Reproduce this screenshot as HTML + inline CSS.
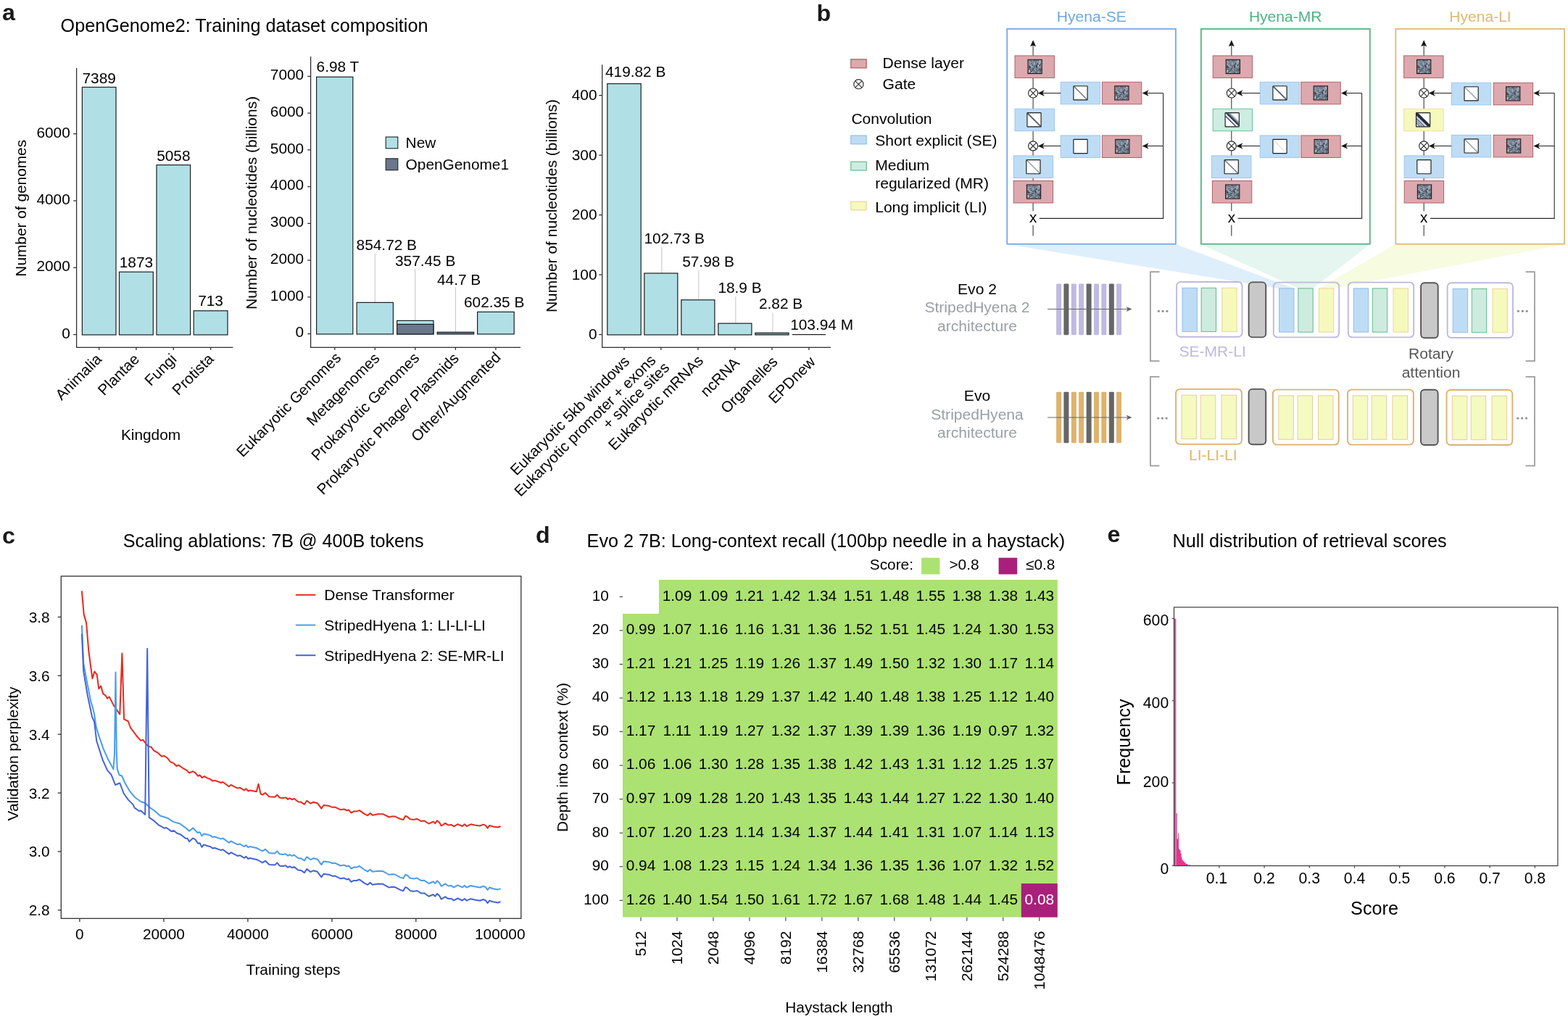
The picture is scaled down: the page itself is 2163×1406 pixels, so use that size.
<!DOCTYPE html>
<html lang="en"><head><meta charset="utf-8"><title>Evo 2 architecture and training figure</title>
<style>html,body{margin:0;padding:0;background:#fff}body{width:2163px;height:1406px;overflow:hidden}svg{display:block;font-family:"Liberation Sans",sans-serif}text{white-space:pre}</style></head><body>
<svg width="2163" height="1406" viewBox="0 0 2163 1406" role="img">
<defs><pattern id="nz" width="20" height="20" patternUnits="userSpaceOnUse"><rect width="20" height="20" fill="#728298"/><rect x="0" y="0" width="1" height="1" fill="#3b4759"/><rect x="1" y="0" width="1" height="1" fill="#848d9a"/><rect x="2" y="0" width="1" height="1" fill="#a0a8b3"/><rect x="3" y="0" width="1" height="1" fill="#5b6776"/><rect x="4" y="0" width="1" height="1" fill="#364355"/><rect x="6" y="0" width="1" height="1" fill="#88929e"/><rect x="7" y="0" width="1" height="1" fill="#a4adb8"/><rect x="8" y="0" width="1" height="1" fill="#3b4859"/><rect x="9" y="0" width="1" height="1" fill="#384456"/><rect x="10" y="0" width="1" height="1" fill="#929ca8"/><rect x="11" y="0" width="1" height="1" fill="#88929e"/><rect x="12" y="0" width="1" height="1" fill="#b8c0c9"/><rect x="13" y="0" width="1" height="1" fill="#9fa8b3"/><rect x="15" y="0" width="1" height="1" fill="#667180"/><rect x="16" y="0" width="1" height="1" fill="#e7edf4"/><rect x="17" y="0" width="1" height="1" fill="#65707f"/><rect x="18" y="0" width="1" height="1" fill="#4f5b6b"/><rect x="19" y="0" width="1" height="1" fill="#3f4b5d"/><rect x="2" y="1" width="1" height="1" fill="#636e7d"/><rect x="4" y="1" width="1" height="1" fill="#7f8996"/><rect x="5" y="1" width="1" height="1" fill="#929ba7"/><rect x="6" y="1" width="1" height="1" fill="#a4adb8"/><rect x="7" y="1" width="1" height="1" fill="#7c8693"/><rect x="8" y="1" width="1" height="1" fill="#212f42"/><rect x="9" y="1" width="1" height="1" fill="#929ca8"/><rect x="10" y="1" width="1" height="1" fill="#323f51"/><rect x="12" y="1" width="1" height="1" fill="#303d4f"/><rect x="14" y="1" width="1" height="1" fill="#4f5b6b"/><rect x="15" y="1" width="1" height="1" fill="#7c8694"/><rect x="16" y="1" width="1" height="1" fill="#eef4fa"/><rect x="18" y="1" width="1" height="1" fill="#99a2ad"/><rect x="19" y="1" width="1" height="1" fill="#364355"/><rect x="0" y="2" width="1" height="1" fill="#65707f"/><rect x="1" y="2" width="1" height="1" fill="#909aa6"/><rect x="3" y="2" width="1" height="1" fill="#838d9a"/><rect x="5" y="2" width="1" height="1" fill="#455162"/><rect x="6" y="2" width="1" height="1" fill="#8c96a2"/><rect x="7" y="2" width="1" height="1" fill="#4e596a"/><rect x="8" y="2" width="1" height="1" fill="#c7cfd7"/><rect x="9" y="2" width="1" height="1" fill="#5b6776"/><rect x="10" y="2" width="1" height="1" fill="#929ba7"/><rect x="12" y="2" width="1" height="1" fill="#9ea7b2"/><rect x="13" y="2" width="1" height="1" fill="#576372"/><rect x="14" y="2" width="1" height="1" fill="#a0a9b4"/><rect x="16" y="2" width="1" height="1" fill="#acb4be"/><rect x="17" y="2" width="1" height="1" fill="#8f98a4"/><rect x="19" y="2" width="1" height="1" fill="#4f5b6b"/><rect x="0" y="3" width="1" height="1" fill="#959eaa"/><rect x="1" y="3" width="1" height="1" fill="#88919e"/><rect x="2" y="3" width="1" height="1" fill="#bdc5ce"/><rect x="3" y="3" width="1" height="1" fill="#616c7c"/><rect x="4" y="3" width="1" height="1" fill="#8c95a2"/><rect x="5" y="3" width="1" height="1" fill="#8993a0"/><rect x="6" y="3" width="1" height="1" fill="#7f8996"/><rect x="7" y="3" width="1" height="1" fill="#7c8693"/><rect x="9" y="3" width="1" height="1" fill="#576373"/><rect x="10" y="3" width="1" height="1" fill="#445162"/><rect x="11" y="3" width="1" height="1" fill="#606c7b"/><rect x="12" y="3" width="1" height="1" fill="#8d97a3"/><rect x="13" y="3" width="1" height="1" fill="#b7bfc8"/><rect x="14" y="3" width="1" height="1" fill="#9fa8b3"/><rect x="15" y="3" width="1" height="1" fill="#a2abb6"/><rect x="16" y="3" width="1" height="1" fill="#969fab"/><rect x="17" y="3" width="1" height="1" fill="#929ba7"/><rect x="19" y="3" width="1" height="1" fill="#959faa"/><rect x="0" y="4" width="1" height="1" fill="#c3cad3"/><rect x="1" y="4" width="1" height="1" fill="#646f7e"/><rect x="2" y="4" width="1" height="1" fill="#535f6f"/><rect x="3" y="4" width="1" height="1" fill="#cbd3db"/><rect x="4" y="4" width="1" height="1" fill="#7d8895"/><rect x="5" y="4" width="1" height="1" fill="#9ea7b2"/><rect x="6" y="4" width="1" height="1" fill="#9aa3af"/><rect x="7" y="4" width="1" height="1" fill="#3f4b5d"/><rect x="8" y="4" width="1" height="1" fill="#e1e7ee"/><rect x="9" y="4" width="1" height="1" fill="#c3cbd3"/><rect x="11" y="4" width="1" height="1" fill="#959eaa"/><rect x="13" y="4" width="1" height="1" fill="#4a5667"/><rect x="15" y="4" width="1" height="1" fill="#838d9a"/><rect x="16" y="4" width="1" height="1" fill="#a5aeb8"/><rect x="17" y="4" width="1" height="1" fill="#939ca8"/><rect x="19" y="4" width="1" height="1" fill="#b0b8c2"/><rect x="0" y="5" width="1" height="1" fill="#505c6c"/><rect x="1" y="5" width="1" height="1" fill="#96a0ab"/><rect x="2" y="5" width="1" height="1" fill="#a5aeb8"/><rect x="3" y="5" width="1" height="1" fill="#65707f"/><rect x="4" y="5" width="1" height="1" fill="#212f42"/><rect x="5" y="5" width="1" height="1" fill="#495566"/><rect x="6" y="5" width="1" height="1" fill="#7d8795"/><rect x="7" y="5" width="1" height="1" fill="#8a94a0"/><rect x="8" y="5" width="1" height="1" fill="#b9c1ca"/><rect x="9" y="5" width="1" height="1" fill="#455162"/><rect x="11" y="5" width="1" height="1" fill="#9099a5"/><rect x="13" y="5" width="1" height="1" fill="#162438"/><rect x="14" y="5" width="1" height="1" fill="#97a0ac"/><rect x="15" y="5" width="1" height="1" fill="#dbe2e9"/><rect x="16" y="5" width="1" height="1" fill="#a0a9b4"/><rect x="17" y="5" width="1" height="1" fill="#495566"/><rect x="18" y="5" width="1" height="1" fill="#606b7a"/><rect x="19" y="5" width="1" height="1" fill="#7c8794"/><rect x="0" y="6" width="1" height="1" fill="#e3eaf0"/><rect x="1" y="6" width="1" height="1" fill="#8e98a4"/><rect x="3" y="6" width="1" height="1" fill="#b9c1ca"/><rect x="5" y="6" width="1" height="1" fill="#c7ced7"/><rect x="6" y="6" width="1" height="1" fill="#535f6f"/><rect x="7" y="6" width="1" height="1" fill="#5d6878"/><rect x="8" y="6" width="1" height="1" fill="#939ca8"/><rect x="9" y="6" width="1" height="1" fill="#b3bbc5"/><rect x="10" y="6" width="1" height="1" fill="#909aa6"/><rect x="11" y="6" width="1" height="1" fill="#808a97"/><rect x="12" y="6" width="1" height="1" fill="#202d41"/><rect x="13" y="6" width="1" height="1" fill="#525e6e"/><rect x="14" y="6" width="1" height="1" fill="#576272"/><rect x="15" y="6" width="1" height="1" fill="#5a6675"/><rect x="16" y="6" width="1" height="1" fill="#8d97a3"/><rect x="17" y="6" width="1" height="1" fill="#636e7d"/><rect x="18" y="6" width="1" height="1" fill="#969fab"/><rect x="0" y="7" width="1" height="1" fill="#636e7d"/><rect x="2" y="7" width="1" height="1" fill="#86909c"/><rect x="3" y="7" width="1" height="1" fill="#99a2ae"/><rect x="4" y="7" width="1" height="1" fill="#5d6877"/><rect x="5" y="7" width="1" height="1" fill="#687381"/><rect x="6" y="7" width="1" height="1" fill="#354153"/><rect x="7" y="7" width="1" height="1" fill="#bbc3cc"/><rect x="8" y="7" width="1" height="1" fill="#b4bcc6"/><rect x="10" y="7" width="1" height="1" fill="#5d6877"/><rect x="11" y="7" width="1" height="1" fill="#3a4759"/><rect x="13" y="7" width="1" height="1" fill="#7c8693"/><rect x="14" y="7" width="1" height="1" fill="#d5dce4"/><rect x="15" y="7" width="1" height="1" fill="#7e8895"/><rect x="16" y="7" width="1" height="1" fill="#4f5b6b"/><rect x="17" y="7" width="1" height="1" fill="#162438"/><rect x="18" y="7" width="1" height="1" fill="#b2bbc4"/><rect x="0" y="8" width="1" height="1" fill="#293749"/><rect x="2" y="8" width="1" height="1" fill="#293749"/><rect x="3" y="8" width="1" height="1" fill="#eef4fa"/><rect x="4" y="8" width="1" height="1" fill="#a5aeb9"/><rect x="5" y="8" width="1" height="1" fill="#8c96a2"/><rect x="7" y="8" width="1" height="1" fill="#162438"/><rect x="9" y="8" width="1" height="1" fill="#2c394c"/><rect x="10" y="8" width="1" height="1" fill="#8d97a3"/><rect x="11" y="8" width="1" height="1" fill="#162438"/><rect x="12" y="8" width="1" height="1" fill="#495566"/><rect x="13" y="8" width="1" height="1" fill="#aab2bd"/><rect x="14" y="8" width="1" height="1" fill="#bdc5ce"/><rect x="15" y="8" width="1" height="1" fill="#3d495b"/><rect x="16" y="8" width="1" height="1" fill="#2d3a4c"/><rect x="17" y="8" width="1" height="1" fill="#9aa3af"/><rect x="18" y="8" width="1" height="1" fill="#99a2ae"/><rect x="19" y="8" width="1" height="1" fill="#465263"/><rect x="0" y="9" width="1" height="1" fill="#535f6f"/><rect x="1" y="9" width="1" height="1" fill="#535f6f"/><rect x="2" y="9" width="1" height="1" fill="#3c495a"/><rect x="3" y="9" width="1" height="1" fill="#545f6f"/><rect x="4" y="9" width="1" height="1" fill="#abb4be"/><rect x="5" y="9" width="1" height="1" fill="#929ba7"/><rect x="6" y="9" width="1" height="1" fill="#d0d7df"/><rect x="9" y="9" width="1" height="1" fill="#465263"/><rect x="11" y="9" width="1" height="1" fill="#374455"/><rect x="12" y="9" width="1" height="1" fill="#222f43"/><rect x="13" y="9" width="1" height="1" fill="#929ba7"/><rect x="14" y="9" width="1" height="1" fill="#b4bcc6"/><rect x="15" y="9" width="1" height="1" fill="#98a1ad"/><rect x="16" y="9" width="1" height="1" fill="#afb7c1"/><rect x="17" y="9" width="1" height="1" fill="#7e8895"/><rect x="18" y="9" width="1" height="1" fill="#525e6e"/><rect x="0" y="10" width="1" height="1" fill="#616d7c"/><rect x="1" y="10" width="1" height="1" fill="#404c5e"/><rect x="2" y="10" width="1" height="1" fill="#263346"/><rect x="3" y="10" width="1" height="1" fill="#2f3c4f"/><rect x="6" y="10" width="1" height="1" fill="#5d6878"/><rect x="7" y="10" width="1" height="1" fill="#b3bbc5"/><rect x="9" y="10" width="1" height="1" fill="#8d96a3"/><rect x="10" y="10" width="1" height="1" fill="#aab2bd"/><rect x="11" y="10" width="1" height="1" fill="#4d596a"/><rect x="12" y="10" width="1" height="1" fill="#19273b"/><rect x="13" y="10" width="1" height="1" fill="#959eaa"/><rect x="14" y="10" width="1" height="1" fill="#535f6f"/><rect x="15" y="10" width="1" height="1" fill="#aeb6c0"/><rect x="16" y="10" width="1" height="1" fill="#828c99"/><rect x="17" y="10" width="1" height="1" fill="#a0a9b4"/><rect x="18" y="10" width="1" height="1" fill="#959eaa"/><rect x="19" y="10" width="1" height="1" fill="#162438"/><rect x="0" y="11" width="1" height="1" fill="#939ca8"/><rect x="1" y="11" width="1" height="1" fill="#54606f"/><rect x="2" y="11" width="1" height="1" fill="#505c6c"/><rect x="3" y="11" width="1" height="1" fill="#5f6a79"/><rect x="4" y="11" width="1" height="1" fill="#959eaa"/><rect x="5" y="11" width="1" height="1" fill="#9aa4af"/><rect x="6" y="11" width="1" height="1" fill="#a0a9b4"/><rect x="7" y="11" width="1" height="1" fill="#273447"/><rect x="8" y="11" width="1" height="1" fill="#586373"/><rect x="9" y="11" width="1" height="1" fill="#162438"/><rect x="11" y="11" width="1" height="1" fill="#8e97a3"/><rect x="12" y="11" width="1" height="1" fill="#505c6c"/><rect x="13" y="11" width="1" height="1" fill="#7d8895"/><rect x="14" y="11" width="1" height="1" fill="#7d8794"/><rect x="15" y="11" width="1" height="1" fill="#a0a9b4"/><rect x="16" y="11" width="1" height="1" fill="#4d5969"/><rect x="17" y="11" width="1" height="1" fill="#4d5969"/><rect x="18" y="11" width="1" height="1" fill="#505c6c"/><rect x="19" y="11" width="1" height="1" fill="#c2c9d2"/><rect x="0" y="12" width="1" height="1" fill="#a4adb7"/><rect x="2" y="12" width="1" height="1" fill="#7d8794"/><rect x="4" y="12" width="1" height="1" fill="#7c8693"/><rect x="5" y="12" width="1" height="1" fill="#697482"/><rect x="6" y="12" width="1" height="1" fill="#636e7d"/><rect x="7" y="12" width="1" height="1" fill="#394658"/><rect x="8" y="12" width="1" height="1" fill="#556171"/><rect x="9" y="12" width="1" height="1" fill="#bdc5ce"/><rect x="10" y="12" width="1" height="1" fill="#8b94a1"/><rect x="12" y="12" width="1" height="1" fill="#697482"/><rect x="14" y="12" width="1" height="1" fill="#828c99"/><rect x="15" y="12" width="1" height="1" fill="#556171"/><rect x="16" y="12" width="1" height="1" fill="#7b8693"/><rect x="17" y="12" width="1" height="1" fill="#7d8795"/><rect x="18" y="12" width="1" height="1" fill="#505c6c"/><rect x="19" y="12" width="1" height="1" fill="#4f5a6b"/><rect x="0" y="13" width="1" height="1" fill="#455162"/><rect x="1" y="13" width="1" height="1" fill="#424e60"/><rect x="2" y="13" width="1" height="1" fill="#9ba4af"/><rect x="3" y="13" width="1" height="1" fill="#162438"/><rect x="4" y="13" width="1" height="1" fill="#667180"/><rect x="5" y="13" width="1" height="1" fill="#576272"/><rect x="6" y="13" width="1" height="1" fill="#566272"/><rect x="8" y="13" width="1" height="1" fill="#a6aeb9"/><rect x="11" y="13" width="1" height="1" fill="#576272"/><rect x="13" y="13" width="1" height="1" fill="#9ca5b0"/><rect x="14" y="13" width="1" height="1" fill="#616c7b"/><rect x="15" y="13" width="1" height="1" fill="#3e4b5c"/><rect x="16" y="13" width="1" height="1" fill="#394657"/><rect x="17" y="13" width="1" height="1" fill="#404d5e"/><rect x="18" y="13" width="1" height="1" fill="#334052"/><rect x="19" y="13" width="1" height="1" fill="#a4adb8"/><rect x="0" y="14" width="1" height="1" fill="#828c99"/><rect x="1" y="14" width="1" height="1" fill="#687381"/><rect x="2" y="14" width="1" height="1" fill="#b5bdc6"/><rect x="3" y="14" width="1" height="1" fill="#556070"/><rect x="4" y="14" width="1" height="1" fill="#959eaa"/><rect x="5" y="14" width="1" height="1" fill="#97a0ac"/><rect x="6" y="14" width="1" height="1" fill="#2c394c"/><rect x="7" y="14" width="1" height="1" fill="#2c394b"/><rect x="8" y="14" width="1" height="1" fill="#485465"/><rect x="9" y="14" width="1" height="1" fill="#9ca5b0"/><rect x="10" y="14" width="1" height="1" fill="#adb6c0"/><rect x="11" y="14" width="1" height="1" fill="#3b4759"/><rect x="12" y="14" width="1" height="1" fill="#a2abb6"/><rect x="13" y="14" width="1" height="1" fill="#616c7b"/><rect x="14" y="14" width="1" height="1" fill="#616c7b"/><rect x="15" y="14" width="1" height="1" fill="#596574"/><rect x="16" y="14" width="1" height="1" fill="#646f7e"/><rect x="17" y="14" width="1" height="1" fill="#202e41"/><rect x="18" y="14" width="1" height="1" fill="#455162"/><rect x="19" y="14" width="1" height="1" fill="#3a4759"/><rect x="0" y="15" width="1" height="1" fill="#89929f"/><rect x="1" y="15" width="1" height="1" fill="#d1d8e0"/><rect x="2" y="15" width="1" height="1" fill="#eef4fa"/><rect x="3" y="15" width="1" height="1" fill="#636e7d"/><rect x="4" y="15" width="1" height="1" fill="#243245"/><rect x="5" y="15" width="1" height="1" fill="#606b7a"/><rect x="6" y="15" width="1" height="1" fill="#485465"/><rect x="7" y="15" width="1" height="1" fill="#ccd4dc"/><rect x="8" y="15" width="1" height="1" fill="#8c96a2"/><rect x="9" y="15" width="1" height="1" fill="#515d6d"/><rect x="10" y="15" width="1" height="1" fill="#9da6b1"/><rect x="11" y="15" width="1" height="1" fill="#8b94a1"/><rect x="12" y="15" width="1" height="1" fill="#293649"/><rect x="13" y="15" width="1" height="1" fill="#5a6675"/><rect x="14" y="15" width="1" height="1" fill="#687281"/><rect x="17" y="15" width="1" height="1" fill="#636e7d"/><rect x="19" y="15" width="1" height="1" fill="#586373"/><rect x="0" y="16" width="1" height="1" fill="#4a5666"/><rect x="1" y="16" width="1" height="1" fill="#b7bfc9"/><rect x="2" y="16" width="1" height="1" fill="#838d9a"/><rect x="3" y="16" width="1" height="1" fill="#86909d"/><rect x="4" y="16" width="1" height="1" fill="#2a374a"/><rect x="6" y="16" width="1" height="1" fill="#98a1ac"/><rect x="7" y="16" width="1" height="1" fill="#384556"/><rect x="8" y="16" width="1" height="1" fill="#a4adb8"/><rect x="9" y="16" width="1" height="1" fill="#616c7b"/><rect x="10" y="16" width="1" height="1" fill="#858f9b"/><rect x="12" y="16" width="1" height="1" fill="#7c8694"/><rect x="13" y="16" width="1" height="1" fill="#a9b2bc"/><rect x="14" y="16" width="1" height="1" fill="#606b7a"/><rect x="15" y="16" width="1" height="1" fill="#b9c1cb"/><rect x="16" y="16" width="1" height="1" fill="#4f5b6b"/><rect x="17" y="16" width="1" height="1" fill="#485465"/><rect x="18" y="16" width="1" height="1" fill="#939ca8"/><rect x="19" y="16" width="1" height="1" fill="#424e5f"/><rect x="0" y="17" width="1" height="1" fill="#626d7c"/><rect x="1" y="17" width="1" height="1" fill="#9ca5b0"/><rect x="2" y="17" width="1" height="1" fill="#a9b2bc"/><rect x="3" y="17" width="1" height="1" fill="#222f43"/><rect x="4" y="17" width="1" height="1" fill="#8993a0"/><rect x="5" y="17" width="1" height="1" fill="#c8cfd8"/><rect x="6" y="17" width="1" height="1" fill="#a9b1bc"/><rect x="7" y="17" width="1" height="1" fill="#677281"/><rect x="8" y="17" width="1" height="1" fill="#576372"/><rect x="9" y="17" width="1" height="1" fill="#65707f"/><rect x="10" y="17" width="1" height="1" fill="#3e4b5c"/><rect x="11" y="17" width="1" height="1" fill="#667180"/><rect x="14" y="17" width="1" height="1" fill="#a8b1bb"/><rect x="15" y="17" width="1" height="1" fill="#687382"/><rect x="16" y="17" width="1" height="1" fill="#303d50"/><rect x="17" y="17" width="1" height="1" fill="#a2abb6"/><rect x="18" y="17" width="1" height="1" fill="#424e5f"/><rect x="19" y="17" width="1" height="1" fill="#5e6979"/><rect x="1" y="18" width="1" height="1" fill="#636e7d"/><rect x="2" y="18" width="1" height="1" fill="#455162"/><rect x="3" y="18" width="1" height="1" fill="#677281"/><rect x="4" y="18" width="1" height="1" fill="#d5dce4"/><rect x="5" y="18" width="1" height="1" fill="#576272"/><rect x="7" y="18" width="1" height="1" fill="#a5aeb9"/><rect x="8" y="18" width="1" height="1" fill="#949da9"/><rect x="9" y="18" width="1" height="1" fill="#959eaa"/><rect x="10" y="18" width="1" height="1" fill="#99a3ae"/><rect x="11" y="18" width="1" height="1" fill="#19273b"/><rect x="12" y="18" width="1" height="1" fill="#4b5768"/><rect x="14" y="18" width="1" height="1" fill="#89939f"/><rect x="15" y="18" width="1" height="1" fill="#adb5c0"/><rect x="16" y="18" width="1" height="1" fill="#88919e"/><rect x="17" y="18" width="1" height="1" fill="#687381"/><rect x="19" y="18" width="1" height="1" fill="#697482"/><rect x="0" y="19" width="1" height="1" fill="#7e8895"/><rect x="1" y="19" width="1" height="1" fill="#919aa6"/><rect x="2" y="19" width="1" height="1" fill="#636e7d"/><rect x="3" y="19" width="1" height="1" fill="#4d596a"/><rect x="4" y="19" width="1" height="1" fill="#4c5868"/><rect x="5" y="19" width="1" height="1" fill="#a4adb8"/><rect x="6" y="19" width="1" height="1" fill="#acb5bf"/><rect x="7" y="19" width="1" height="1" fill="#9fa8b3"/><rect x="8" y="19" width="1" height="1" fill="#99a2ae"/><rect x="9" y="19" width="1" height="1" fill="#98a1ad"/><rect x="11" y="19" width="1" height="1" fill="#909aa6"/><rect x="12" y="19" width="1" height="1" fill="#434f60"/><rect x="13" y="19" width="1" height="1" fill="#697483"/><rect x="14" y="19" width="1" height="1" fill="#515d6d"/><rect x="15" y="19" width="1" height="1" fill="#939da9"/><rect x="16" y="19" width="1" height="1" fill="#586473"/><rect x="18" y="19" width="1" height="1" fill="#858e9b"/><rect x="19" y="19" width="1" height="1" fill="#b0b8c2"/></pattern><linearGradient id="gmr" x1="9.3" y1="9.3" x2="13.6" y2="5.0" gradientUnits="userSpaceOnUse"><stop offset="0" stop-color="#1b2636"/><stop offset="0.3" stop-color="#3d4d63"/><stop offset="0.6" stop-color="#8fa1b6"/><stop offset="0.85" stop-color="#d5dee8"/><stop offset="1" stop-color="#ffffff"/></linearGradient></defs>
<rect width="2163" height="1406" fill="#fff"/>
<g id="panel-a">
<text x="3.00" y="27.80" font-size="32.2" fill="#1a1a1a" font-weight="bold">a</text>
<text x="83.60" y="43.60" font-size="25.2">OpenGenome2: Training dataset composition</text>
<line x1="105.60" y1="93.80" x2="105.60" y2="479.30" stroke="#2b2b2b" stroke-width="1.25"/>
<line x1="105.00" y1="479.30" x2="321.40" y2="479.30" stroke="#2b2b2b" stroke-width="1.25"/>
<line x1="101.20" y1="461.60" x2="105.60" y2="461.60" stroke="#2b2b2b" stroke-width="1.25"/>
<text x="96.80" y="466.60" font-size="20.83" text-anchor="end">0</text>
<line x1="101.20" y1="369.30" x2="105.60" y2="369.30" stroke="#2b2b2b" stroke-width="1.25"/>
<text x="96.80" y="374.30" font-size="20.83" text-anchor="end">2000</text>
<line x1="101.20" y1="277.00" x2="105.60" y2="277.00" stroke="#2b2b2b" stroke-width="1.25"/>
<text x="96.80" y="282.00" font-size="20.83" text-anchor="end">4000</text>
<line x1="101.20" y1="184.70" x2="105.60" y2="184.70" stroke="#2b2b2b" stroke-width="1.25"/>
<text x="96.80" y="189.70" font-size="20.83" text-anchor="end">6000</text>
<rect x="113.40" y="120.30" width="46.60" height="341.70" fill="#B1DFE6" stroke="#1c1f22" stroke-width="1.2"/>
<text x="136.70" y="115.00" font-size="20.83" text-anchor="middle">7389</text>
<line x1="136.70" y1="479.30" x2="136.70" y2="482.90" stroke="#2b2b2b" stroke-width="1.25"/>
<text x="141.50" y="496.80" font-size="20.83" text-anchor="end" transform="rotate(-45 141.50 496.80)">Animalia</text>
<rect x="164.50" y="375.20" width="46.80" height="86.80" fill="#B1DFE6" stroke="#1c1f22" stroke-width="1.2"/>
<text x="187.90" y="368.80" font-size="20.83" text-anchor="middle">1873</text>
<line x1="187.90" y1="479.30" x2="187.90" y2="482.90" stroke="#2b2b2b" stroke-width="1.25"/>
<text x="193.50" y="496.80" font-size="20.83" text-anchor="end" transform="rotate(-45 193.50 496.80)">Plantae</text>
<rect x="216.00" y="227.60" width="46.60" height="234.40" fill="#B1DFE6" stroke="#1c1f22" stroke-width="1.2"/>
<text x="239.30" y="222.00" font-size="20.83" text-anchor="middle">5058</text>
<line x1="239.30" y1="479.30" x2="239.30" y2="482.90" stroke="#2b2b2b" stroke-width="1.25"/>
<text x="244.80" y="496.70" font-size="20.83" text-anchor="end" transform="rotate(-45 244.80 496.70)">Fungi</text>
<rect x="267.20" y="428.80" width="46.80" height="33.20" fill="#B1DFE6" stroke="#1c1f22" stroke-width="1.2"/>
<text x="290.60" y="421.90" font-size="20.83" text-anchor="middle">713</text>
<line x1="290.60" y1="479.30" x2="290.60" y2="482.90" stroke="#2b2b2b" stroke-width="1.25"/>
<text x="296.00" y="496.50" font-size="20.83" text-anchor="end" transform="rotate(-45 296.00 496.50)">Protista</text>
<text x="36.30" y="287.30" font-size="20.83" text-anchor="middle" transform="rotate(-90 36.30 287.30)">Number of genomes</text>
<text x="208.00" y="606.80" font-size="20.83" text-anchor="middle">Kingdom</text>
<line x1="428.60" y1="78.00" x2="428.60" y2="479.30" stroke="#2b2b2b" stroke-width="1.25"/>
<line x1="428.00" y1="479.30" x2="718.00" y2="479.30" stroke="#2b2b2b" stroke-width="1.25"/>
<line x1="424.20" y1="460.60" x2="428.60" y2="460.60" stroke="#2b2b2b" stroke-width="1.25"/>
<text x="419.20" y="465.30" font-size="20.83" text-anchor="end">0</text>
<line x1="424.20" y1="409.85" x2="428.60" y2="409.85" stroke="#2b2b2b" stroke-width="1.25"/>
<text x="419.20" y="414.55" font-size="20.83" text-anchor="end">1000</text>
<line x1="424.20" y1="359.10" x2="428.60" y2="359.10" stroke="#2b2b2b" stroke-width="1.25"/>
<text x="419.20" y="363.80" font-size="20.83" text-anchor="end">2000</text>
<line x1="424.20" y1="308.35" x2="428.60" y2="308.35" stroke="#2b2b2b" stroke-width="1.25"/>
<text x="419.20" y="313.05" font-size="20.83" text-anchor="end">3000</text>
<line x1="424.20" y1="257.60" x2="428.60" y2="257.60" stroke="#2b2b2b" stroke-width="1.25"/>
<text x="419.20" y="262.30" font-size="20.83" text-anchor="end">4000</text>
<line x1="424.20" y1="206.85" x2="428.60" y2="206.85" stroke="#2b2b2b" stroke-width="1.25"/>
<text x="419.20" y="211.55" font-size="20.83" text-anchor="end">5000</text>
<line x1="424.20" y1="156.10" x2="428.60" y2="156.10" stroke="#2b2b2b" stroke-width="1.25"/>
<text x="419.20" y="160.80" font-size="20.83" text-anchor="end">6000</text>
<line x1="424.20" y1="105.35" x2="428.60" y2="105.35" stroke="#2b2b2b" stroke-width="1.25"/>
<text x="419.20" y="110.05" font-size="20.83" text-anchor="end">7000</text>
<rect x="436.60" y="106.20" width="50.20" height="354.80" fill="#B1DFE6" stroke="#1c1f22" stroke-width="1.2"/>
<line x1="461.70" y1="479.30" x2="461.70" y2="482.90" stroke="#2b2b2b" stroke-width="1.25"/>
<text x="471.50" y="495.00" font-size="20.83" text-anchor="end" transform="rotate(-45 471.50 495.00)">Eukaryotic Genomes</text>
<text x="436.60" y="99.20" font-size="20.83">6.98 T</text>
<line x1="517.25" y1="349.60" x2="517.25" y2="417.40" stroke="#c4c4c4" stroke-width="1.0"/>
<rect x="492.10" y="417.40" width="50.30" height="43.60" fill="#B1DFE6" stroke="#1c1f22" stroke-width="1.2"/>
<line x1="517.25" y1="479.30" x2="517.25" y2="482.90" stroke="#2b2b2b" stroke-width="1.25"/>
<text x="524.85" y="495.50" font-size="20.83" text-anchor="end" transform="rotate(-45 524.85 495.50)">Metagenomes</text>
<text x="491.60" y="345.00" font-size="20.83">854.72 B</text>
<line x1="572.80" y1="371.00" x2="572.80" y2="442.40" stroke="#c4c4c4" stroke-width="1.0"/>
<rect x="547.60" y="442.40" width="50.40" height="18.60" fill="#B1DFE6" stroke="#1c1f22" stroke-width="1.2"/>
<rect x="547.60" y="447.40" width="50.40" height="13.60" fill="#6B788C" stroke="#1c1f22" stroke-width="1.2"/>
<line x1="572.80" y1="479.30" x2="572.80" y2="482.90" stroke="#2b2b2b" stroke-width="1.25"/>
<text x="579.50" y="495.10" font-size="20.83" text-anchor="end" transform="rotate(-45 579.50 495.10)">Prokaryotic Genomes</text>
<text x="545.00" y="366.60" font-size="20.83">357.45 B</text>
<line x1="628.40" y1="396.50" x2="628.40" y2="458.30" stroke="#c4c4c4" stroke-width="1.0"/>
<rect x="603.10" y="458.30" width="50.60" height="2.70" fill="#6B788C" stroke="#1c1f22" stroke-width="1.2"/>
<line x1="628.40" y1="479.30" x2="628.40" y2="482.90" stroke="#2b2b2b" stroke-width="1.25"/>
<text x="634.10" y="495.50" font-size="20.83" text-anchor="end" transform="rotate(-45 634.10 495.50)">Prokaryotic Phage/ Plasmids</text>
<text x="603.00" y="392.50" font-size="20.83">44.7 B</text>
<rect x="658.60" y="430.40" width="50.60" height="30.60" fill="#B1DFE6" stroke="#1c1f22" stroke-width="1.2"/>
<line x1="683.90" y1="479.30" x2="683.90" y2="482.90" stroke="#2b2b2b" stroke-width="1.25"/>
<text x="692.00" y="494.20" font-size="20.83" text-anchor="end" transform="rotate(-45 692.00 494.20)">Other/Augmented</text>
<text x="640.00" y="423.90" font-size="20.83">602.35 B</text>
<text x="353.60" y="279.90" font-size="21.0" text-anchor="middle" transform="rotate(-90 353.60 279.90)">Number of nucleotides (billions)</text>
<rect x="532.20" y="189.00" width="16.60" height="15.80" fill="#B1DFE6" stroke="#1c1f22" stroke-width="1.1"/>
<text x="559.60" y="203.70" font-size="20.83">New</text>
<rect x="532.20" y="218.80" width="16.60" height="15.90" fill="#6B788C" stroke="#1c1f22" stroke-width="1.1"/>
<text x="559.60" y="233.80" font-size="20.83">OpenGenome1</text>
<line x1="830.70" y1="89.30" x2="830.70" y2="479.30" stroke="#2b2b2b" stroke-width="1.25"/>
<line x1="830.10" y1="479.30" x2="1146.00" y2="479.30" stroke="#2b2b2b" stroke-width="1.25"/>
<line x1="826.30" y1="461.60" x2="830.70" y2="461.60" stroke="#2b2b2b" stroke-width="1.25"/>
<text x="823.50" y="468.10" font-size="20.83" text-anchor="end">0</text>
<line x1="826.30" y1="379.10" x2="830.70" y2="379.10" stroke="#2b2b2b" stroke-width="1.25"/>
<text x="823.50" y="385.60" font-size="20.83" text-anchor="end">100</text>
<line x1="826.30" y1="296.60" x2="830.70" y2="296.60" stroke="#2b2b2b" stroke-width="1.25"/>
<text x="823.50" y="303.10" font-size="20.83" text-anchor="end">200</text>
<line x1="826.30" y1="214.10" x2="830.70" y2="214.10" stroke="#2b2b2b" stroke-width="1.25"/>
<text x="823.50" y="220.60" font-size="20.83" text-anchor="end">300</text>
<line x1="826.30" y1="131.60" x2="830.70" y2="131.60" stroke="#2b2b2b" stroke-width="1.25"/>
<text x="823.50" y="138.10" font-size="20.83" text-anchor="end">400</text>
<rect x="837.80" y="115.50" width="46.40" height="346.50" fill="#B1DFE6" stroke="#1c1f22" stroke-width="1.2"/>
<line x1="861.00" y1="479.30" x2="861.00" y2="482.90" stroke="#2b2b2b" stroke-width="1.25"/>
<text x="869.60" y="499.80" font-size="20.83" text-anchor="end" transform="rotate(-45 869.60 499.80)">Eukaryotic 5kb windows</text>
<text x="835.00" y="105.90" font-size="20.83">419.82 B</text>
<line x1="912.80" y1="340.60" x2="912.80" y2="377.00" stroke="#c4c4c4" stroke-width="1.0"/>
<rect x="888.80" y="377.00" width="46.00" height="85.00" fill="#B1DFE6" stroke="#1c1f22" stroke-width="1.2"/>
<line x1="911.80" y1="479.30" x2="911.80" y2="482.90" stroke="#2b2b2b" stroke-width="1.25"/>
<text x="905.80" y="498.40" font-size="20.83" text-anchor="end" transform="rotate(-45 905.80 498.40)">Eukaryotic promoter + exons</text>
<text x="924.60" y="508.40" font-size="20.83" text-anchor="end" transform="rotate(-45 924.60 508.40)">+ splice sites</text>
<text x="888.40" y="335.50" font-size="20.83">102.73 B</text>
<line x1="963.85" y1="372.80" x2="963.85" y2="413.80" stroke="#c4c4c4" stroke-width="1.0"/>
<rect x="939.80" y="413.80" width="46.10" height="48.20" fill="#B1DFE6" stroke="#1c1f22" stroke-width="1.2"/>
<line x1="962.85" y1="479.30" x2="962.85" y2="482.90" stroke="#2b2b2b" stroke-width="1.25"/>
<text x="971.45" y="498.80" font-size="20.83" text-anchor="end" transform="rotate(-45 971.45 498.80)">Eukaryotic mRNAs</text>
<text x="941.20" y="368.10" font-size="20.83">57.98 B</text>
<line x1="1014.85" y1="409.20" x2="1014.85" y2="446.20" stroke="#c4c4c4" stroke-width="1.0"/>
<rect x="990.80" y="446.20" width="46.10" height="15.80" fill="#B1DFE6" stroke="#1c1f22" stroke-width="1.2"/>
<line x1="1013.85" y1="479.30" x2="1013.85" y2="482.90" stroke="#2b2b2b" stroke-width="1.25"/>
<text x="1021.45" y="501.80" font-size="20.83" text-anchor="end" transform="rotate(-45 1021.45 501.80)">ncRNA</text>
<text x="990.40" y="404.30" font-size="20.83">18.9 B</text>
<line x1="1065.90" y1="431.60" x2="1065.90" y2="459.30" stroke="#c4c4c4" stroke-width="1.0"/>
<rect x="1041.80" y="459.30" width="46.20" height="2.70" fill="#7d9a9c" stroke="#1c1f22" stroke-width="1.2"/>
<line x1="1064.90" y1="479.30" x2="1064.90" y2="482.90" stroke="#2b2b2b" stroke-width="1.25"/>
<text x="1073.90" y="500.30" font-size="20.83" text-anchor="end" transform="rotate(-45 1073.90 500.30)">Organelles</text>
<text x="1047.00" y="426.00" font-size="20.83">2.82 B</text>
<line x1="1092.80" y1="461.70" x2="1139.00" y2="461.70" stroke="#1c1f22" stroke-width="1.3"/>
<line x1="1115.90" y1="479.30" x2="1115.90" y2="482.90" stroke="#2b2b2b" stroke-width="1.25"/>
<text x="1126.00" y="500.60" font-size="20.83" text-anchor="end" transform="rotate(-45 1126.00 500.60)">EPDnew</text>
<text x="1090.20" y="454.70" font-size="20.83">103.94 M</text>
<text x="768.00" y="284.00" font-size="21.0" text-anchor="middle" transform="rotate(-90 768.00 284.00)">Number of nucleotides (billions)</text>
</g>
<g id="panel-b">
<text x="1126.50" y="28.50" font-size="32.2" fill="#1a1a1a" font-weight="bold">b</text>
<rect x="1173.80" y="81.80" width="21.40" height="12.00" fill="#DCA9AE" stroke="#A9525B" stroke-width="1.1"/>
<text x="1217.60" y="93.90" font-size="21.05">Dense layer</text>
<circle cx="1184.4" cy="116.2" r="6.6" fill="#fff" stroke="#2b2b2b" stroke-width="1.15"/>
<line x1="1179.73" y1="111.53" x2="1189.07" y2="120.87" stroke="#2b2b2b" stroke-width="1.1"/>
<line x1="1179.73" y1="120.87" x2="1189.07" y2="111.53" stroke="#2b2b2b" stroke-width="1.1"/>
<text x="1217.60" y="122.90" font-size="21.05">Gate</text>
<text x="1174.40" y="170.50" font-size="21.05">Convolution</text>
<rect x="1173.80" y="187.00" width="21.40" height="11.80" fill="#BEDDF5" stroke="#8BBAEA" stroke-width="1.1"/>
<text x="1207.20" y="201.20" font-size="21.05">Short explicit (SE)</text>
<rect x="1173.80" y="223.20" width="21.40" height="11.80" fill="#CDEDE2" stroke="#58B888" stroke-width="1.1"/>
<text x="1207.20" y="234.60" font-size="21.05">Medium</text>
<text x="1207.20" y="260.00" font-size="21.05">regularized (MR)</text>
<rect x="1173.80" y="278.20" width="21.40" height="11.60" fill="#F6F9BD" stroke="#E9CF97" stroke-width="1.1"/>
<text x="1207.20" y="292.70" font-size="21.05">Long implicit (LI)</text>
<path d="M1389.2 337 L1621.9 337 L1785.2 398 L1764.4 398 Z" fill="#DFEEFB"/>
<path d="M1656.9 337 L1889.8 337 L1811.0 398 L1790.8 398 Z" fill="#E2F5EE" fill-opacity="0.92"/>
<path d="M1925.3 337 L2158.1 337 L1839.8 398 L1819.2 398 Z" fill="#F6FBDD" fill-opacity="0.92"/>
<rect x="1389.20" y="39.90" width="232.70" height="296.80" fill="#fff" stroke="#6FA9E2" stroke-width="1.75"/>
<text x="1505.80" y="30.20" font-size="21.05" text-anchor="middle" fill="#6FA9E2">Hyena-SE</text>
<line x1="1425.10" y1="62.00" x2="1425.10" y2="291.30" stroke="#3a3a3a" stroke-width="1.1"/>
<line x1="1425.10" y1="310.40" x2="1425.10" y2="325.60" stroke="#3a3a3a" stroke-width="1.1"/>
<path d="M1425.10 55.2 L1429.10 64.3 L1425.10 62.5 L1421.10 64.3 Z" fill="#151515"/>
<line x1="1604.60" y1="128.50" x2="1604.60" y2="301.40" stroke="#2b2b2b" stroke-width="1.1"/>
<line x1="1433.90" y1="301.40" x2="1605.15" y2="301.40" stroke="#2b2b2b" stroke-width="1.1"/>
<text x="1425.10" y="307.00" font-size="20.6" text-anchor="middle">x</text>
<rect x="1400.00" y="76.90" width="54.40" height="30.50" fill="#DCA9AE" stroke="#B25F67" stroke-width="1.0"/>
<g transform="translate(1418.00 82.35)"><rect x="0.5" y="0.5" width="18.2" height="18.2" fill="url(#nz)"/><rect width="19.2" height="19.2" fill="none" stroke="#1a1a1a" stroke-width="1.1"/></g>
<rect x="1400.00" y="150.20" width="54.40" height="30.50" fill="#BEDDF5" stroke="#9AC5EF" stroke-width="1.0"/>
<g transform="translate(1416.90 155.65)"><rect width="19.2" height="19.2" fill="#fff"/><line x1="0.6" y1="0.6" x2="18.7" y2="18.7" stroke="#56626f" stroke-width="1.9"/><rect width="19.2" height="19.2" fill="none" stroke="#1d1d1d" stroke-width="1.15" rx="0.7"/></g>
<rect x="1398.20" y="214.90" width="54.40" height="30.50" fill="#BEDDF5" stroke="#9AC5EF" stroke-width="1.0"/>
<g transform="translate(1415.80 220.55)"><rect width="19.2" height="19.2" fill="#fff"/><line x1="0.6" y1="0.6" x2="18.7" y2="18.7" stroke="#7d9596" stroke-width="1.2"/><rect width="19.2" height="19.2" fill="none" stroke="#1d1d1d" stroke-width="1.15" rx="0.7"/></g>
<rect x="1398.20" y="249.50" width="54.40" height="30.50" fill="#DCA9AE" stroke="#B25F67" stroke-width="1.0"/>
<g transform="translate(1416.40 254.95)"><rect x="0.5" y="0.5" width="18.2" height="18.2" fill="url(#nz)"/><rect width="19.2" height="19.2" fill="none" stroke="#1a1a1a" stroke-width="1.1"/></g>
<rect x="1463.20" y="113.25" width="54.40" height="30.50" fill="#BEDDF5" stroke="#9AC5EF" stroke-width="1.0"/>
<g transform="translate(1480.90 118.70)"><rect width="19.2" height="19.2" fill="#fff"/><line x1="0.6" y1="0.6" x2="18.7" y2="18.7" stroke="#66737f" stroke-width="1.4"/><rect width="19.2" height="19.2" fill="none" stroke="#1d1d1d" stroke-width="1.15" rx="0.7"/></g>
<rect x="1520.40" y="113.25" width="54.40" height="30.50" fill="#DCA9AE" stroke="#B25F67" stroke-width="1.0"/>
<g transform="translate(1537.80 118.70)"><rect x="0.5" y="0.5" width="18.2" height="18.2" fill="url(#nz)"/><rect width="19.2" height="19.2" fill="none" stroke="#1a1a1a" stroke-width="1.1"/></g>
<line x1="1463.20" y1="128.50" x2="1436.70" y2="128.50" stroke="#2b2b2b" stroke-width="1.1"/>
<path d="M1431.70 128.50 L1440.70 124.30 L1438.20 128.50 L1440.70 132.70 Z" fill="#151515"/>
<line x1="1604.60" y1="128.50" x2="1580.60" y2="128.50" stroke="#2b2b2b" stroke-width="1.1"/>
<path d="M1575.60 128.50 L1584.60 124.30 L1582.10 128.50 L1584.60 132.70 Z" fill="#151515"/>
<circle cx="1425.10" cy="128.50" r="6.5" fill="#fff" stroke="#2b2b2b" stroke-width="1.15"/>
<line x1="1420.50" y1="123.90" x2="1429.70" y2="133.10" stroke="#2b2b2b" stroke-width="1.1"/>
<line x1="1420.50" y1="133.10" x2="1429.70" y2="123.90" stroke="#2b2b2b" stroke-width="1.1"/>
<rect x="1463.20" y="186.95" width="54.40" height="30.50" fill="#BEDDF5" stroke="#9AC5EF" stroke-width="1.0"/>
<g transform="translate(1480.90 192.40)"><rect width="19.2" height="19.2" fill="#fff"/><rect width="19.2" height="19.2" fill="none" stroke="#1d1d1d" stroke-width="1.15" rx="0.7"/></g>
<rect x="1520.40" y="186.95" width="54.40" height="30.50" fill="#DCA9AE" stroke="#B25F67" stroke-width="1.0"/>
<g transform="translate(1538.70 192.40)"><rect x="0.5" y="0.5" width="18.2" height="18.2" fill="url(#nz)"/><rect width="19.2" height="19.2" fill="none" stroke="#1a1a1a" stroke-width="1.1"/></g>
<line x1="1463.20" y1="201.40" x2="1436.70" y2="201.40" stroke="#2b2b2b" stroke-width="1.1"/>
<path d="M1431.70 201.40 L1440.70 197.20 L1438.20 201.40 L1440.70 205.60 Z" fill="#151515"/>
<line x1="1604.60" y1="201.40" x2="1580.60" y2="201.40" stroke="#2b2b2b" stroke-width="1.1"/>
<path d="M1575.60 201.40 L1584.60 197.20 L1582.10 201.40 L1584.60 205.60 Z" fill="#151515"/>
<circle cx="1425.10" cy="201.40" r="6.5" fill="#fff" stroke="#2b2b2b" stroke-width="1.15"/>
<line x1="1420.50" y1="196.80" x2="1429.70" y2="206.00" stroke="#2b2b2b" stroke-width="1.1"/>
<line x1="1420.50" y1="206.00" x2="1429.70" y2="196.80" stroke="#2b2b2b" stroke-width="1.1"/>
<rect x="1656.90" y="39.90" width="232.90" height="296.80" fill="#fff" stroke="#4DB381" stroke-width="1.75"/>
<text x="1773.20" y="30.20" font-size="21.05" text-anchor="middle" fill="#4DB381">Hyena-MR</text>
<line x1="1698.80" y1="62.00" x2="1698.80" y2="291.30" stroke="#3a3a3a" stroke-width="1.1"/>
<line x1="1698.80" y1="310.40" x2="1698.80" y2="325.60" stroke="#3a3a3a" stroke-width="1.1"/>
<path d="M1698.80 55.2 L1702.80 64.3 L1698.80 62.5 L1694.80 64.3 Z" fill="#151515"/>
<line x1="1878.60" y1="128.50" x2="1878.60" y2="301.40" stroke="#2b2b2b" stroke-width="1.1"/>
<line x1="1707.60" y1="301.40" x2="1879.15" y2="301.40" stroke="#2b2b2b" stroke-width="1.1"/>
<text x="1698.80" y="307.00" font-size="20.6" text-anchor="middle">x</text>
<rect x="1673.20" y="76.90" width="54.40" height="30.50" fill="#DCA9AE" stroke="#B25F67" stroke-width="1.0"/>
<g transform="translate(1691.20 82.35)"><rect x="0.5" y="0.5" width="18.2" height="18.2" fill="url(#nz)"/><rect width="19.2" height="19.2" fill="none" stroke="#1a1a1a" stroke-width="1.1"/></g>
<rect x="1673.20" y="150.20" width="54.40" height="30.50" fill="#CDEDE2" stroke="#67C095" stroke-width="1.0"/>
<g transform="translate(1690.10 155.65)"><rect width="19.2" height="19.2" fill="#fff"/><path d="M0.5 0.5 L8.0 0.5 L18.7 11.2 L18.7 18.7 Z" fill="url(#gmr)"/><path d="M0.5 3.6 L15.6 18.7 L13.6 18.7 L0.5 5.6 Z" fill="#34425a"/><rect width="19.2" height="19.2" fill="none" stroke="#1d1d1d" stroke-width="1.15" rx="0.7"/></g>
<rect x="1671.50" y="214.90" width="54.40" height="30.50" fill="#BEDDF5" stroke="#9AC5EF" stroke-width="1.0"/>
<g transform="translate(1689.10 220.55)"><rect width="19.2" height="19.2" fill="#fff"/><line x1="0.6" y1="0.6" x2="18.7" y2="18.7" stroke="#66737f" stroke-width="1.4"/><rect width="19.2" height="19.2" fill="none" stroke="#1d1d1d" stroke-width="1.15" rx="0.7"/></g>
<rect x="1672.40" y="249.50" width="54.40" height="30.50" fill="#DCA9AE" stroke="#B25F67" stroke-width="1.0"/>
<g transform="translate(1690.60 254.95)"><rect x="0.5" y="0.5" width="18.2" height="18.2" fill="url(#nz)"/><rect width="19.2" height="19.2" fill="none" stroke="#1a1a1a" stroke-width="1.1"/></g>
<rect x="1738.20" y="113.25" width="54.40" height="30.50" fill="#BEDDF5" stroke="#9AC5EF" stroke-width="1.0"/>
<g transform="translate(1755.90 118.70)"><rect width="19.2" height="19.2" fill="#fff"/><line x1="0.6" y1="0.6" x2="18.7" y2="18.7" stroke="#56626f" stroke-width="1.9"/><rect width="19.2" height="19.2" fill="none" stroke="#1d1d1d" stroke-width="1.15" rx="0.7"/></g>
<rect x="1794.80" y="113.25" width="54.40" height="30.50" fill="#DCA9AE" stroke="#B25F67" stroke-width="1.0"/>
<g transform="translate(1812.20 118.70)"><rect x="0.5" y="0.5" width="18.2" height="18.2" fill="url(#nz)"/><rect width="19.2" height="19.2" fill="none" stroke="#1a1a1a" stroke-width="1.1"/></g>
<line x1="1738.20" y1="128.50" x2="1710.40" y2="128.50" stroke="#2b2b2b" stroke-width="1.1"/>
<path d="M1705.40 128.50 L1714.40 124.30 L1711.90 128.50 L1714.40 132.70 Z" fill="#151515"/>
<line x1="1878.60" y1="128.50" x2="1855.00" y2="128.50" stroke="#2b2b2b" stroke-width="1.1"/>
<path d="M1850.00 128.50 L1859.00 124.30 L1856.50 128.50 L1859.00 132.70 Z" fill="#151515"/>
<circle cx="1698.80" cy="128.50" r="6.5" fill="#fff" stroke="#2b2b2b" stroke-width="1.15"/>
<line x1="1694.20" y1="123.90" x2="1703.40" y2="133.10" stroke="#2b2b2b" stroke-width="1.1"/>
<line x1="1694.20" y1="133.10" x2="1703.40" y2="123.90" stroke="#2b2b2b" stroke-width="1.1"/>
<rect x="1738.20" y="186.95" width="54.40" height="30.50" fill="#BEDDF5" stroke="#9AC5EF" stroke-width="1.0"/>
<g transform="translate(1755.90 192.40)"><rect width="19.2" height="19.2" fill="#fff"/><line x1="1.5" y1="1.5" x2="17.7" y2="17.7" stroke="#dbe2e1" stroke-width="1.2"/><rect width="19.2" height="19.2" fill="none" stroke="#1d1d1d" stroke-width="1.15" rx="0.7"/></g>
<rect x="1794.80" y="186.95" width="54.40" height="30.50" fill="#DCA9AE" stroke="#B25F67" stroke-width="1.0"/>
<g transform="translate(1813.10 192.40)"><rect x="0.5" y="0.5" width="18.2" height="18.2" fill="url(#nz)"/><rect width="19.2" height="19.2" fill="none" stroke="#1a1a1a" stroke-width="1.1"/></g>
<line x1="1738.20" y1="201.40" x2="1710.40" y2="201.40" stroke="#2b2b2b" stroke-width="1.1"/>
<path d="M1705.40 201.40 L1714.40 197.20 L1711.90 201.40 L1714.40 205.60 Z" fill="#151515"/>
<line x1="1878.60" y1="201.40" x2="1855.00" y2="201.40" stroke="#2b2b2b" stroke-width="1.1"/>
<path d="M1850.00 201.40 L1859.00 197.20 L1856.50 201.40 L1859.00 205.60 Z" fill="#151515"/>
<circle cx="1698.80" cy="201.40" r="6.5" fill="#fff" stroke="#2b2b2b" stroke-width="1.15"/>
<line x1="1694.20" y1="196.80" x2="1703.40" y2="206.00" stroke="#2b2b2b" stroke-width="1.1"/>
<line x1="1694.20" y1="206.00" x2="1703.40" y2="196.80" stroke="#2b2b2b" stroke-width="1.1"/>
<rect x="1925.30" y="39.90" width="232.80" height="296.80" fill="#fff" stroke="#E2B770" stroke-width="1.75"/>
<text x="2042.00" y="30.20" font-size="21.05" text-anchor="middle" fill="#E2B770">Hyena-LI</text>
<line x1="1964.20" y1="62.00" x2="1964.20" y2="291.30" stroke="#3a3a3a" stroke-width="1.1"/>
<line x1="1964.20" y1="310.40" x2="1964.20" y2="325.60" stroke="#3a3a3a" stroke-width="1.1"/>
<path d="M1964.20 55.2 L1968.20 64.3 L1964.20 62.5 L1960.20 64.3 Z" fill="#151515"/>
<line x1="2144.20" y1="128.50" x2="2144.20" y2="301.40" stroke="#2b2b2b" stroke-width="1.1"/>
<line x1="1973.00" y1="301.40" x2="2144.75" y2="301.40" stroke="#2b2b2b" stroke-width="1.1"/>
<text x="1964.20" y="307.00" font-size="20.6" text-anchor="middle">x</text>
<rect x="1936.60" y="76.90" width="54.40" height="30.50" fill="#DCA9AE" stroke="#B25F67" stroke-width="1.0"/>
<g transform="translate(1954.60 82.35)"><rect x="0.5" y="0.5" width="18.2" height="18.2" fill="url(#nz)"/><rect width="19.2" height="19.2" fill="none" stroke="#1a1a1a" stroke-width="1.1"/></g>
<rect x="1936.60" y="150.20" width="54.40" height="30.50" fill="#F6F9BD" stroke="#EDDDA0" stroke-width="1.0"/>
<g transform="translate(1953.50 155.65)"><rect width="19.2" height="19.2" fill="#fff"/><path d="M0.5 0.5 L0.5 18.7 L18.7 18.7 Z" fill="#c9d6e4"/><path d="M0.5 7.2 L12.0 18.7 L10.2 18.7 L0.5 9.0 Z" fill="#56637b"/><path d="M0.5 10.4 L8.799999999999999 18.7 L7.199999999999999 18.7 L0.5 12.0 Z" fill="#7b8aa3"/><path d="M0.5 13.4 L5.799999999999999 18.7 L4.399999999999999 18.7 L0.5 14.8 Z" fill="#56637b"/><path d="M0.5 0.5 L3.0 0.5 L18.7 16.2 L18.7 18.7 L15.799999999999999 18.7 L0.5 3.8 Z" fill="#25283f"/><rect width="19.2" height="19.2" fill="none" stroke="#1d1d1d" stroke-width="1.15" rx="0.7"/></g>
<rect x="1937.20" y="214.90" width="54.40" height="30.50" fill="#BEDDF5" stroke="#9AC5EF" stroke-width="1.0"/>
<g transform="translate(1954.80 220.55)"><rect width="19.2" height="19.2" fill="#fff"/><line x1="1.5" y1="1.5" x2="17.7" y2="17.7" stroke="#eef1f1" stroke-width="1.0"/><rect width="19.2" height="19.2" fill="none" stroke="#1d1d1d" stroke-width="1.15" rx="0.7"/></g>
<rect x="1937.20" y="249.50" width="54.40" height="30.50" fill="#DCA9AE" stroke="#B25F67" stroke-width="1.0"/>
<g transform="translate(1955.40 254.95)"><rect x="0.5" y="0.5" width="18.2" height="18.2" fill="url(#nz)"/><rect width="19.2" height="19.2" fill="none" stroke="#1a1a1a" stroke-width="1.1"/></g>
<rect x="2002.30" y="114.25" width="54.40" height="30.50" fill="#BEDDF5" stroke="#9AC5EF" stroke-width="1.0"/>
<g transform="translate(2020.00 119.70)"><rect width="19.2" height="19.2" fill="#fff"/><line x1="0.6" y1="0.6" x2="18.7" y2="18.7" stroke="#7d9596" stroke-width="1.2"/><rect width="19.2" height="19.2" fill="none" stroke="#1d1d1d" stroke-width="1.15" rx="0.7"/></g>
<rect x="2060.20" y="114.25" width="54.40" height="30.50" fill="#DCA9AE" stroke="#B25F67" stroke-width="1.0"/>
<g transform="translate(2077.60 119.70)"><rect x="0.5" y="0.5" width="18.2" height="18.2" fill="url(#nz)"/><rect width="19.2" height="19.2" fill="none" stroke="#1a1a1a" stroke-width="1.1"/></g>
<line x1="2002.30" y1="128.50" x2="1975.80" y2="128.50" stroke="#2b2b2b" stroke-width="1.1"/>
<path d="M1970.80 128.50 L1979.80 124.30 L1977.30 128.50 L1979.80 132.70 Z" fill="#151515"/>
<line x1="2144.20" y1="128.50" x2="2120.40" y2="128.50" stroke="#2b2b2b" stroke-width="1.1"/>
<path d="M2115.40 128.50 L2124.40 124.30 L2121.90 128.50 L2124.40 132.70 Z" fill="#151515"/>
<circle cx="1964.20" cy="128.50" r="6.5" fill="#fff" stroke="#2b2b2b" stroke-width="1.15"/>
<line x1="1959.60" y1="123.90" x2="1968.80" y2="133.10" stroke="#2b2b2b" stroke-width="1.1"/>
<line x1="1959.60" y1="133.10" x2="1968.80" y2="123.90" stroke="#2b2b2b" stroke-width="1.1"/>
<rect x="2002.30" y="186.35" width="54.40" height="30.50" fill="#BEDDF5" stroke="#9AC5EF" stroke-width="1.0"/>
<g transform="translate(2020.00 191.80)"><rect width="19.2" height="19.2" fill="#fff"/><line x1="0.6" y1="0.6" x2="18.7" y2="18.7" stroke="#7d9596" stroke-width="1.2"/><rect width="19.2" height="19.2" fill="none" stroke="#1d1d1d" stroke-width="1.15" rx="0.7"/></g>
<rect x="2060.20" y="186.35" width="54.40" height="30.50" fill="#DCA9AE" stroke="#B25F67" stroke-width="1.0"/>
<g transform="translate(2078.50 191.80)"><rect x="0.5" y="0.5" width="18.2" height="18.2" fill="url(#nz)"/><rect width="19.2" height="19.2" fill="none" stroke="#1a1a1a" stroke-width="1.1"/></g>
<line x1="2002.30" y1="201.40" x2="1975.80" y2="201.40" stroke="#2b2b2b" stroke-width="1.1"/>
<path d="M1970.80 201.40 L1979.80 197.20 L1977.30 201.40 L1979.80 205.60 Z" fill="#151515"/>
<line x1="2144.20" y1="201.40" x2="2120.40" y2="201.40" stroke="#2b2b2b" stroke-width="1.1"/>
<path d="M2115.40 201.40 L2124.40 197.20 L2121.90 201.40 L2124.40 205.60 Z" fill="#151515"/>
<circle cx="1964.20" cy="201.40" r="6.5" fill="#fff" stroke="#2b2b2b" stroke-width="1.15"/>
<line x1="1959.60" y1="196.80" x2="1968.80" y2="206.00" stroke="#2b2b2b" stroke-width="1.1"/>
<line x1="1959.60" y1="206.00" x2="1968.80" y2="196.80" stroke="#2b2b2b" stroke-width="1.1"/>
<text x="1348.00" y="405.80" font-size="21.05" text-anchor="middle">Evo 2</text>
<text x="1348.00" y="431.40" font-size="21.05" text-anchor="middle" fill="#9a9fa4">StripedHyena 2</text>
<text x="1348.00" y="456.70" font-size="21.05" text-anchor="middle" fill="#9a9fa4">architecture</text>
<text x="1348.00" y="553.40" font-size="21.05" text-anchor="middle">Evo</text>
<text x="1348.00" y="578.80" font-size="21.05" text-anchor="middle" fill="#9a9fa4">StripedHyena</text>
<text x="1348.00" y="603.90" font-size="21.05" text-anchor="middle" fill="#9a9fa4">architecture</text>
<rect x="1457.10" y="391.50" width="7.00" height="70.70" fill="#BFBADF" rx="1.2"/>
<rect x="1467.40" y="391.50" width="7.00" height="70.70" fill="#666" rx="1.2"/>
<rect x="1477.80" y="391.50" width="7.00" height="70.70" fill="#BFBADF" rx="1.2"/>
<rect x="1488.10" y="391.50" width="7.00" height="70.70" fill="#BFBADF" rx="1.2"/>
<rect x="1498.60" y="391.50" width="7.00" height="70.70" fill="#666" rx="1.2"/>
<rect x="1509.00" y="391.50" width="7.00" height="70.70" fill="#BFBADF" rx="1.2"/>
<rect x="1519.30" y="391.50" width="7.00" height="70.70" fill="#BFBADF" rx="1.2"/>
<rect x="1529.80" y="391.50" width="7.00" height="70.70" fill="#666" rx="1.2"/>
<rect x="1540.00" y="391.50" width="7.00" height="70.70" fill="#BFBADF" rx="1.2"/>
<line x1="1445.00" y1="426.50" x2="1557.00" y2="426.50" stroke="#666" stroke-width="1.0"/>
<path d="M1561.6 426.5 L1553.6 423.1 L1555.6 426.5 L1553.6 429.9 Z" fill="#666"/>
<rect x="1457.10" y="540.80" width="7.00" height="70.50" fill="#DEB36D" rx="1.2"/>
<rect x="1467.40" y="540.80" width="7.00" height="70.50" fill="#666" rx="1.2"/>
<rect x="1477.80" y="540.80" width="7.00" height="70.50" fill="#DEB36D" rx="1.2"/>
<rect x="1488.10" y="540.80" width="7.00" height="70.50" fill="#DEB36D" rx="1.2"/>
<rect x="1498.60" y="540.80" width="7.00" height="70.50" fill="#666" rx="1.2"/>
<rect x="1509.00" y="540.80" width="7.00" height="70.50" fill="#DEB36D" rx="1.2"/>
<rect x="1519.30" y="540.80" width="7.00" height="70.50" fill="#DEB36D" rx="1.2"/>
<rect x="1529.80" y="540.80" width="7.00" height="70.50" fill="#666" rx="1.2"/>
<rect x="1540.00" y="540.80" width="7.00" height="70.50" fill="#DEB36D" rx="1.2"/>
<line x1="1445.00" y1="576.00" x2="1557.00" y2="576.00" stroke="#666" stroke-width="1.0"/>
<path d="M1561.6 576.0 L1553.6 572.6 L1555.6 576.0 L1553.6 579.4 Z" fill="#666"/>
<path d="M1599.4 375.1 L1586.9 375.1 L1586.9 498.1 L1599.4 498.1" fill="none" stroke="#9c9c9c" stroke-width="1.8"/>
<path d="M2104.6 375.1 L2116.9 375.1 L2116.9 498.1 L2104.6 498.1" fill="none" stroke="#9c9c9c" stroke-width="1.8"/>
<path d="M1599.4 519.9 L1586.9 519.9 L1586.9 642.6 L1599.4 642.6" fill="none" stroke="#9c9c9c" stroke-width="1.8"/>
<path d="M2104.6 519.9 L2116.9 519.9 L2116.9 642.6 L2104.6 642.6" fill="none" stroke="#9c9c9c" stroke-width="1.8"/>
<circle cx="1598.4" cy="429.3" r="1.6" fill="#8f8f8f"/>
<circle cx="1604.1" cy="429.3" r="1.6" fill="#8f8f8f"/>
<circle cx="1609.8" cy="429.3" r="1.6" fill="#8f8f8f"/>
<circle cx="2094.4" cy="429.3" r="1.6" fill="#8f8f8f"/>
<circle cx="2100.3" cy="429.3" r="1.6" fill="#8f8f8f"/>
<circle cx="2106.2" cy="429.3" r="1.6" fill="#8f8f8f"/>
<circle cx="1597.7" cy="577.1" r="1.6" fill="#8f8f8f"/>
<circle cx="1603.4" cy="577.1" r="1.6" fill="#8f8f8f"/>
<circle cx="1609.1" cy="577.1" r="1.6" fill="#8f8f8f"/>
<circle cx="2093.7" cy="577.1" r="1.6" fill="#8f8f8f"/>
<circle cx="2099.6" cy="577.1" r="1.6" fill="#8f8f8f"/>
<circle cx="2105.5" cy="577.1" r="1.6" fill="#8f8f8f"/>
<rect x="1623.10" y="389.00" width="90.40" height="75.80" fill="none" stroke="#BDB9DE" stroke-width="1.9" rx="5.5"/>
<rect x="1631.00" y="397.30" width="20.40" height="60.30" fill="#BEDDF5" stroke="#8FBCEA" stroke-width="1.0"/>
<rect x="1657.10" y="397.30" width="20.40" height="60.30" fill="#CDEBDF" stroke="#62BA8D" stroke-width="1.0"/>
<rect x="1685.80" y="397.30" width="20.40" height="60.30" fill="#F6F9BC" stroke="#EBD39B" stroke-width="1.0"/>
<rect x="1756.80" y="389.60" width="90.40" height="75.80" fill="none" stroke="#BDB9DE" stroke-width="1.9" rx="5.5"/>
<rect x="1764.60" y="397.90" width="20.40" height="60.30" fill="#BEDDF5" stroke="#8FBCEA" stroke-width="1.0"/>
<rect x="1790.80" y="397.90" width="20.40" height="60.30" fill="#CDEBDF" stroke="#62BA8D" stroke-width="1.0"/>
<rect x="1819.40" y="397.90" width="20.40" height="60.30" fill="#F6F9BC" stroke="#EBD39B" stroke-width="1.0"/>
<rect x="1859.80" y="389.60" width="90.40" height="75.80" fill="none" stroke="#BDB9DE" stroke-width="1.9" rx="5.5"/>
<rect x="1867.20" y="397.90" width="20.40" height="60.30" fill="#BEDDF5" stroke="#8FBCEA" stroke-width="1.0"/>
<rect x="1893.30" y="397.90" width="20.40" height="60.30" fill="#CDEBDF" stroke="#62BA8D" stroke-width="1.0"/>
<rect x="1922.00" y="397.90" width="20.40" height="60.30" fill="#F6F9BC" stroke="#EBD39B" stroke-width="1.0"/>
<rect x="1996.60" y="390.20" width="90.40" height="75.80" fill="none" stroke="#BDB9DE" stroke-width="1.9" rx="5.5"/>
<rect x="2004.20" y="398.50" width="20.40" height="60.30" fill="#BEDDF5" stroke="#8FBCEA" stroke-width="1.0"/>
<rect x="2030.30" y="398.50" width="20.40" height="60.30" fill="#CDEBDF" stroke="#62BA8D" stroke-width="1.0"/>
<rect x="2059.00" y="398.50" width="20.40" height="60.30" fill="#F6F9BC" stroke="#EBD39B" stroke-width="1.0"/>
<rect x="1722.60" y="389.40" width="23.60" height="76.00" fill="#C9C9C9" stroke="#555" stroke-width="1.9" rx="5"/>
<rect x="1960.10" y="390.30" width="23.60" height="76.00" fill="#C9C9C9" stroke="#555" stroke-width="1.9" rx="5"/>
<text x="1626.40" y="491.60" font-size="21.05" fill="#BDB9DE">SE-MR-LI</text>
<text x="1974.00" y="495.30" font-size="21.05" text-anchor="middle" fill="#555">Rotary</text>
<text x="1974.00" y="520.60" font-size="21.05" text-anchor="middle" fill="#555">attention</text>
<rect x="1622.10" y="536.90" width="90.80" height="76.00" fill="none" stroke="#DDB171" stroke-width="1.9" rx="5.5"/>
<rect x="1630.00" y="545.20" width="20.50" height="60.40" fill="#F5FAC1" stroke="#E7CC96" stroke-width="1.0"/>
<rect x="1656.30" y="545.20" width="20.50" height="60.40" fill="#F5FAC1" stroke="#E7CC96" stroke-width="1.0"/>
<rect x="1685.00" y="545.20" width="20.50" height="60.40" fill="#F5FAC1" stroke="#E7CC96" stroke-width="1.0"/>
<rect x="1755.90" y="537.60" width="90.80" height="76.00" fill="none" stroke="#DDB171" stroke-width="1.9" rx="5.5"/>
<rect x="1763.80" y="545.90" width="20.50" height="60.40" fill="#F5FAC1" stroke="#E7CC96" stroke-width="1.0"/>
<rect x="1790.00" y="545.90" width="20.50" height="60.40" fill="#F5FAC1" stroke="#E7CC96" stroke-width="1.0"/>
<rect x="1818.50" y="545.90" width="20.50" height="60.40" fill="#F5FAC1" stroke="#E7CC96" stroke-width="1.0"/>
<rect x="1859.00" y="537.60" width="90.80" height="76.00" fill="none" stroke="#DDB171" stroke-width="1.9" rx="5.5"/>
<rect x="1866.20" y="545.90" width="20.50" height="60.40" fill="#F5FAC1" stroke="#E7CC96" stroke-width="1.0"/>
<rect x="1892.20" y="545.90" width="20.50" height="60.40" fill="#F5FAC1" stroke="#E7CC96" stroke-width="1.0"/>
<rect x="1921.00" y="545.90" width="20.50" height="60.40" fill="#F5FAC1" stroke="#E7CC96" stroke-width="1.0"/>
<rect x="1995.50" y="538.00" width="90.80" height="76.00" fill="none" stroke="#DDB171" stroke-width="1.9" rx="5.5"/>
<rect x="2003.30" y="546.30" width="20.50" height="60.40" fill="#F5FAC1" stroke="#E7CC96" stroke-width="1.0"/>
<rect x="2029.20" y="546.30" width="20.50" height="60.40" fill="#F5FAC1" stroke="#E7CC96" stroke-width="1.0"/>
<rect x="2058.10" y="546.30" width="20.50" height="60.40" fill="#F5FAC1" stroke="#E7CC96" stroke-width="1.0"/>
<rect x="1722.60" y="536.90" width="23.60" height="76.30" fill="#C9C9C9" stroke="#555" stroke-width="1.9" rx="5"/>
<rect x="1960.00" y="537.70" width="23.60" height="76.30" fill="#C9C9C9" stroke="#555" stroke-width="1.9" rx="5"/>
<text x="1640.00" y="635.30" font-size="21.05" fill="#E0B56E">LI-LI-LI</text>
</g>
<g id="panel-c">
<text x="3.00" y="749.60" font-size="32.2" fill="#1a1a1a" font-weight="bold">c</text>
<text x="377.20" y="754.70" font-size="25.2" text-anchor="middle">Scaling ablations: 7B @ 400B tokens</text>
<line x1="79.70" y1="851.40" x2="84.30" y2="851.40" stroke="#2b2b2b" stroke-width="1.25"/>
<text x="68.60" y="858.80" font-size="20.83" text-anchor="end">3.8</text>
<line x1="79.70" y1="932.30" x2="84.30" y2="932.30" stroke="#2b2b2b" stroke-width="1.25"/>
<text x="68.60" y="939.70" font-size="20.83" text-anchor="end">3.6</text>
<line x1="79.70" y1="1013.20" x2="84.30" y2="1013.20" stroke="#2b2b2b" stroke-width="1.25"/>
<text x="68.60" y="1020.60" font-size="20.83" text-anchor="end">3.4</text>
<line x1="79.70" y1="1094.10" x2="84.30" y2="1094.10" stroke="#2b2b2b" stroke-width="1.25"/>
<text x="68.60" y="1101.50" font-size="20.83" text-anchor="end">3.2</text>
<line x1="79.70" y1="1174.90" x2="84.30" y2="1174.90" stroke="#2b2b2b" stroke-width="1.25"/>
<text x="68.60" y="1182.30" font-size="20.83" text-anchor="end">3.0</text>
<line x1="79.70" y1="1255.80" x2="84.30" y2="1255.80" stroke="#2b2b2b" stroke-width="1.25"/>
<text x="68.60" y="1263.20" font-size="20.83" text-anchor="end">2.8</text>
<line x1="109.90" y1="1267.30" x2="109.90" y2="1271.90" stroke="#2b2b2b" stroke-width="1.25"/>
<text x="109.90" y="1295.80" font-size="20.83" text-anchor="middle">0</text>
<line x1="225.90" y1="1267.30" x2="225.90" y2="1271.90" stroke="#2b2b2b" stroke-width="1.25"/>
<text x="225.90" y="1295.80" font-size="20.83" text-anchor="middle">20000</text>
<line x1="341.90" y1="1267.30" x2="341.90" y2="1271.90" stroke="#2b2b2b" stroke-width="1.25"/>
<text x="341.90" y="1295.80" font-size="20.83" text-anchor="middle">40000</text>
<line x1="457.90" y1="1267.30" x2="457.90" y2="1271.90" stroke="#2b2b2b" stroke-width="1.25"/>
<text x="457.90" y="1295.80" font-size="20.83" text-anchor="middle">60000</text>
<line x1="573.80" y1="1267.30" x2="573.80" y2="1271.90" stroke="#2b2b2b" stroke-width="1.25"/>
<text x="573.80" y="1295.80" font-size="20.83" text-anchor="middle">80000</text>
<line x1="689.80" y1="1267.30" x2="689.80" y2="1271.90" stroke="#2b2b2b" stroke-width="1.25"/>
<text x="689.80" y="1295.80" font-size="20.83" text-anchor="middle">100000</text>
<polyline points="112.9,815.4 115.7,847.9 119.1,859.6 122.3,898.0 125.4,921.5 127.4,936.3 130.4,926.5 133.7,930.8 136.3,950.4 139.2,946.5 142.1,957.1 145.7,959.8 148.1,963.7 150.7,961.4 156.7,973.1 165.3,985.6 168.4,901.4 171.1,992.3 176.6,995.0 180.2,1004.3 184.1,1009.5 189.5,1016.8 194.2,1021.9 197.1,1020.7 201.3,1026.2 205.2,1030.1 208.3,1030.4 212.2,1035.6 217.7,1038.7 223.2,1043.8 226.3,1042.9 231.0,1046.0 234.9,1051.2 239.6,1053.2 243.5,1057.0 246.2,1055.6 252.1,1059.8 257.6,1062.9 261.2,1066.5 266.2,1064.2 270.1,1066.9 272.8,1070.8 275.6,1069.5 278.7,1073.1 281.9,1071.1 286.6,1073.9 290.0,1075.0 293.1,1077.4 296.3,1076.9 304.9,1080.0 307.5,1079.0 315.8,1085.2 318.5,1082.9 327.6,1087.6 331.0,1086.8 336.9,1090.4 339.3,1088.3 342.4,1091.5 344.8,1090.4 353.8,1092.3 356.5,1081.8 359.6,1095.4 362.0,1096.6 365.9,1094.1 371.4,1099.3 379.2,1099.8 382.3,1096.6 385.5,1100.5 390.2,1101.3 394.1,1100.4 397.2,1102.9 399.5,1101.3 402.7,1103.2 405.8,1102.0 411.3,1106.3 415.2,1106.7 419.9,1109.8 423.3,1104.8 428.5,1108.7 432.4,1106.7 437.9,1108.2 443.4,1115.7 446.5,1111.0 454.3,1112.1 458.2,1113.8 462.1,1113.7 470.0,1117.3 474.7,1116.5 478.6,1118.4 480.9,1117.3 484.5,1121.5 488.0,1119.6 491.9,1119.6 495.8,1118.1 502.8,1123.1 507.2,1125.2 510.6,1122.0 513.8,1124.8 521.9,1123.2 528.2,1123.2 536.8,1127.5 540.7,1126.4 544.6,1126.4 551.6,1129.8 556.3,1131.1 559.2,1125.9 561.8,1126.7 565.7,1130.3 571.2,1130.9 575.1,1129.8 580.6,1132.9 585.3,1132.6 591.5,1136.5 597.8,1133.7 600.2,1136.1 603.0,1132.2 606.4,1135.3 608.8,1139.5 614.2,1135.8 618.2,1138.4 622.8,1138.1 626.0,1140.3 631.5,1137.2 637.7,1140.0 640.8,1137.3 643.7,1140.0 649.5,1137.3 654.9,1138.4 662.0,1139.5 666.7,1137.6 669.8,1138.9 672.6,1142.6 675.3,1138.9 680.0,1140.5 687.0,1141.5 690.6,1140.0" fill="none" stroke="#E8291C" stroke-width="2.0" stroke-linejoin="round" stroke-linecap="butt"/>
<polyline points="112.9,862.8 115.2,915.2 119.1,936.3 125.4,968.4 127.8,976.0 130.1,985.5 132.4,1001.9 136.3,1015.2 142.6,1033.2 148.9,1047.3 156.4,1061.4 158.0,1040.0 159.5,927.4 160.8,1040.0 161.8,1061.4 164.5,1069.2 168.0,1070.5 172.3,1080.2 178.6,1091.1 185.6,1099.7 194.2,1106.0 200.5,1108.3 206.8,1114.3 213.0,1118.5 220.8,1125.5 231.0,1128.7 239.6,1134.1 248.2,1136.5 256.8,1142.8 261.1,1146.7 266.2,1142.4 272.5,1149.0 275.6,1148.2 278.4,1153.4 281.1,1150.6 288.1,1152.1 290.0,1152.6 293.1,1155.0 296.3,1154.5 304.9,1157.6 307.5,1156.6 315.8,1162.8 318.5,1160.6 327.6,1165.3 331.0,1164.5 336.9,1168.1 339.3,1166.0 342.4,1169.2 344.8,1168.1 353.8,1170.0 356.5,1171.3 359.6,1173.1 362.0,1174.3 365.9,1171.8 371.4,1177.0 379.2,1177.6 382.3,1174.4 385.5,1178.3 390.2,1179.1 394.1,1178.2 397.2,1180.7 399.5,1179.1 402.7,1181.0 405.8,1179.7 411.3,1184.0 415.2,1184.4 419.9,1187.4 423.3,1182.4 428.5,1186.2 432.4,1184.2 437.9,1185.7 443.4,1193.1 446.5,1188.4 454.3,1189.4 458.2,1191.1 462.1,1190.9 470.0,1194.5 474.7,1193.6 478.6,1195.5 480.9,1194.4 484.5,1198.5 488.0,1196.6 491.9,1196.6 495.8,1195.0 502.8,1200.2 507.2,1202.6 510.6,1199.7 513.8,1202.7 521.9,1201.7 528.2,1202.1 536.8,1207.0 540.7,1206.2 544.6,1206.5 551.6,1210.4 556.3,1211.9 559.2,1206.9 561.8,1207.8 565.7,1211.6 571.2,1212.4 575.1,1211.5 580.6,1214.9 585.3,1214.8 591.5,1219.0 597.8,1216.5 600.2,1219.0 603.0,1215.3 606.4,1218.5 608.8,1222.8 614.2,1219.4 618.2,1222.2 622.8,1222.1 626.0,1224.4 631.5,1221.4 637.7,1224.4 640.8,1221.8 643.7,1224.5 649.5,1222.0 654.9,1223.2 662.0,1224.5 666.7,1222.8 669.8,1224.2 672.6,1228.0 675.3,1224.4 680.0,1226.2 687.0,1227.4 690.6,1226.1" fill="none" stroke="#4A9CEC" stroke-width="2.0" stroke-linejoin="round" stroke-linecap="butt"/>
<polyline points="112.9,874.5 115.2,926.2 120.7,959.0 127.0,988.8 130.1,996.0 133.2,1022.3 141.8,1048.9 148.1,1062.9 153.6,1069.2 159.0,1083.0 165.3,1080.5 170.8,1095.0 177.0,1103.6 183.3,1109.9 185.6,1114.6 191.9,1119.0 194.2,1118.5 200.2,1124.0 201.6,1010.0 203.2,894.9 204.4,1010.0 205.7,1127.9 211.5,1131.8 218.5,1138.1 227.1,1142.8 229.5,1142.0 236.5,1147.1 239.6,1145.9 244.3,1149.8 249.0,1151.4 256.1,1156.8 258.4,1156.8 261.1,1161.1 266.2,1156.5 269.4,1158.4 273.3,1163.9 275.6,1163.1 278.4,1168.9 281.1,1165.4 288.1,1167.8 290.0,1168.0 293.1,1170.4 296.3,1170.0 304.9,1173.1 307.5,1172.2 315.8,1178.4 318.5,1176.2 327.6,1180.9 331.0,1180.2 336.9,1183.8 339.3,1181.7 342.4,1185.0 344.8,1183.9 353.8,1185.9 356.5,1187.2 359.6,1189.0 362.0,1190.3 365.9,1187.8 371.4,1193.0 379.2,1193.6 382.3,1190.4 385.5,1194.4 390.2,1195.2 394.1,1194.3 397.2,1196.9 399.5,1195.3 402.7,1197.2 405.8,1196.1 411.3,1200.5 415.2,1200.9 419.9,1204.1 423.3,1199.1 428.5,1203.1 432.4,1201.2 437.9,1202.8 443.4,1210.3 446.5,1205.7 454.3,1206.9 458.2,1208.7 462.1,1208.6 470.0,1212.3 474.7,1211.6 478.6,1213.6 480.9,1212.5 484.5,1216.8 488.0,1214.9 491.9,1215.0 495.8,1213.5 502.8,1218.6 507.2,1220.8 510.6,1217.8 513.8,1220.7 521.9,1219.5 528.2,1219.8 536.8,1224.6 540.7,1223.7 544.6,1223.9 551.6,1227.6 556.3,1229.2 559.2,1224.1 561.8,1225.1 565.7,1228.9 571.2,1229.9 575.1,1229.0 580.6,1232.4 585.3,1232.4 591.5,1236.7 597.8,1234.2 600.2,1236.8 603.0,1233.0 606.4,1236.3 608.8,1240.7 614.2,1237.3 618.2,1240.1 622.8,1240.1 626.0,1242.4 631.5,1239.5 637.7,1242.5 640.8,1239.9 643.7,1242.7 649.5,1240.2 654.9,1241.5 662.0,1242.8 666.7,1241.0 669.8,1242.4 672.6,1246.2 675.3,1242.6 680.0,1244.3 687.0,1245.5 690.6,1244.1" fill="none" stroke="#4363D8" stroke-width="2.0" stroke-linejoin="round" stroke-linecap="butt"/>
<rect x="84.30" y="795.00" width="634.50" height="472.30" fill="none" stroke="#333" stroke-width="1.3"/>
<text x="25.40" y="1040.00" font-size="20.83" text-anchor="middle" transform="rotate(-90 25.40 1040.00)">Validation perplexity</text>
<text x="404.50" y="1344.70" font-size="20.83" text-anchor="middle">Training steps</text>
<line x1="407.80" y1="820.80" x2="435.30" y2="820.80" stroke="#E8291C" stroke-width="2.0"/>
<text x="447.30" y="828.20" font-size="20.97">Dense Transformer</text>
<line x1="407.80" y1="862.50" x2="435.30" y2="862.50" stroke="#4A9CEC" stroke-width="2.0"/>
<text x="447.30" y="869.90" font-size="20.97">StripedHyena 1: LI-LI-LI</text>
<line x1="407.80" y1="904.20" x2="435.30" y2="904.20" stroke="#4363D8" stroke-width="2.0"/>
<text x="447.30" y="911.60" font-size="20.97">StripedHyena 2: SE-MR-LI</text>
</g>
<g id="panel-d">
<text x="739.00" y="748.50" font-size="32.2" fill="#1a1a1a" font-weight="bold">d</text>
<text x="809.60" y="754.50" font-size="25.2">Evo 2 7B: Long-context recall (100bp needle in a haystack)</text>
<text x="1199.80" y="786.10" font-size="20.83">Score:</text>
<rect x="1271.10" y="769.60" width="25.30" height="22.80" fill="#ACE271"/>
<text x="1309.40" y="786.10" font-size="20.83">&gt;0.8</text>
<rect x="1377.60" y="769.60" width="25.60" height="22.80" fill="#A8207A"/>
<text x="1415.00" y="786.10" font-size="20.83">≤0.8</text>
<path d="M908.98 800.1 H1458.76 V1265.60 H859.0 V846.65 H908.98 Z" fill="#ACE271"/>
<rect x="1408.78" y="1219.05" width="49.98" height="46.55" fill="#A8207A"/>
<g font-size="20.83" text-anchor="middle">
<text x="934.0" y="828.7">1.09</text>
<text x="984.0" y="828.7">1.09</text>
<text x="1033.9" y="828.7">1.21</text>
<text x="1083.9" y="828.7">1.42</text>
<text x="1133.9" y="828.7">1.34</text>
<text x="1183.9" y="828.7">1.51</text>
<text x="1233.8" y="828.7">1.48</text>
<text x="1283.8" y="828.7">1.55</text>
<text x="1333.8" y="828.7">1.38</text>
<text x="1383.8" y="828.7">1.38</text>
<text x="1433.8" y="828.7">1.43</text>
<text x="884.0" y="875.2">0.99</text>
<text x="934.0" y="875.2">1.07</text>
<text x="984.0" y="875.2">1.16</text>
<text x="1033.9" y="875.2">1.16</text>
<text x="1083.9" y="875.2">1.31</text>
<text x="1133.9" y="875.2">1.36</text>
<text x="1183.9" y="875.2">1.52</text>
<text x="1233.8" y="875.2">1.51</text>
<text x="1283.8" y="875.2">1.45</text>
<text x="1333.8" y="875.2">1.24</text>
<text x="1383.8" y="875.2">1.30</text>
<text x="1433.8" y="875.2">1.53</text>
<text x="884.0" y="921.8">1.21</text>
<text x="934.0" y="921.8">1.21</text>
<text x="984.0" y="921.8">1.25</text>
<text x="1033.9" y="921.8">1.19</text>
<text x="1083.9" y="921.8">1.26</text>
<text x="1133.9" y="921.8">1.37</text>
<text x="1183.9" y="921.8">1.49</text>
<text x="1233.8" y="921.8">1.50</text>
<text x="1283.8" y="921.8">1.32</text>
<text x="1333.8" y="921.8">1.30</text>
<text x="1383.8" y="921.8">1.17</text>
<text x="1433.8" y="921.8">1.14</text>
<text x="884.0" y="968.3">1.12</text>
<text x="934.0" y="968.3">1.13</text>
<text x="984.0" y="968.3">1.18</text>
<text x="1033.9" y="968.3">1.29</text>
<text x="1083.9" y="968.3">1.37</text>
<text x="1133.9" y="968.3">1.42</text>
<text x="1183.9" y="968.3">1.40</text>
<text x="1233.8" y="968.3">1.48</text>
<text x="1283.8" y="968.3">1.38</text>
<text x="1333.8" y="968.3">1.25</text>
<text x="1383.8" y="968.3">1.12</text>
<text x="1433.8" y="968.3">1.40</text>
<text x="884.0" y="1014.9">1.17</text>
<text x="934.0" y="1014.9">1.11</text>
<text x="984.0" y="1014.9">1.19</text>
<text x="1033.9" y="1014.9">1.27</text>
<text x="1083.9" y="1014.9">1.32</text>
<text x="1133.9" y="1014.9">1.37</text>
<text x="1183.9" y="1014.9">1.39</text>
<text x="1233.8" y="1014.9">1.39</text>
<text x="1283.8" y="1014.9">1.36</text>
<text x="1333.8" y="1014.9">1.19</text>
<text x="1383.8" y="1014.9">0.97</text>
<text x="1433.8" y="1014.9">1.32</text>
<text x="884.0" y="1061.4">1.06</text>
<text x="934.0" y="1061.4">1.06</text>
<text x="984.0" y="1061.4">1.30</text>
<text x="1033.9" y="1061.4">1.28</text>
<text x="1083.9" y="1061.4">1.35</text>
<text x="1133.9" y="1061.4">1.38</text>
<text x="1183.9" y="1061.4">1.42</text>
<text x="1233.8" y="1061.4">1.43</text>
<text x="1283.8" y="1061.4">1.31</text>
<text x="1333.8" y="1061.4">1.12</text>
<text x="1383.8" y="1061.4">1.25</text>
<text x="1433.8" y="1061.4">1.37</text>
<text x="884.0" y="1108.0">0.97</text>
<text x="934.0" y="1108.0">1.09</text>
<text x="984.0" y="1108.0">1.28</text>
<text x="1033.9" y="1108.0">1.20</text>
<text x="1083.9" y="1108.0">1.43</text>
<text x="1133.9" y="1108.0">1.35</text>
<text x="1183.9" y="1108.0">1.43</text>
<text x="1233.8" y="1108.0">1.44</text>
<text x="1283.8" y="1108.0">1.27</text>
<text x="1333.8" y="1108.0">1.22</text>
<text x="1383.8" y="1108.0">1.30</text>
<text x="1433.8" y="1108.0">1.40</text>
<text x="884.0" y="1154.5">1.07</text>
<text x="934.0" y="1154.5">1.20</text>
<text x="984.0" y="1154.5">1.23</text>
<text x="1033.9" y="1154.5">1.14</text>
<text x="1083.9" y="1154.5">1.34</text>
<text x="1133.9" y="1154.5">1.37</text>
<text x="1183.9" y="1154.5">1.44</text>
<text x="1233.8" y="1154.5">1.41</text>
<text x="1283.8" y="1154.5">1.31</text>
<text x="1333.8" y="1154.5">1.07</text>
<text x="1383.8" y="1154.5">1.14</text>
<text x="1433.8" y="1154.5">1.13</text>
<text x="884.0" y="1201.1">0.94</text>
<text x="934.0" y="1201.1">1.08</text>
<text x="984.0" y="1201.1">1.23</text>
<text x="1033.9" y="1201.1">1.15</text>
<text x="1083.9" y="1201.1">1.24</text>
<text x="1133.9" y="1201.1">1.34</text>
<text x="1183.9" y="1201.1">1.36</text>
<text x="1233.8" y="1201.1">1.35</text>
<text x="1283.8" y="1201.1">1.36</text>
<text x="1333.8" y="1201.1">1.07</text>
<text x="1383.8" y="1201.1">1.32</text>
<text x="1433.8" y="1201.1">1.52</text>
<text x="884.0" y="1247.6">1.26</text>
<text x="934.0" y="1247.6">1.40</text>
<text x="984.0" y="1247.6">1.54</text>
<text x="1033.9" y="1247.6">1.50</text>
<text x="1083.9" y="1247.6">1.61</text>
<text x="1133.9" y="1247.6">1.72</text>
<text x="1183.9" y="1247.6">1.67</text>
<text x="1233.8" y="1247.6">1.68</text>
<text x="1283.8" y="1247.6">1.48</text>
<text x="1333.8" y="1247.6">1.44</text>
<text x="1383.8" y="1247.6">1.45</text>
<text x="1433.8" y="1247.6" fill="#fff">0.08</text>
</g>
<line x1="854.60" y1="823.38" x2="859.00" y2="823.38" stroke="#2b2b2b" stroke-width="1.0"/>
<text x="839.80" y="828.67" font-size="20.83" text-anchor="end">10</text>
<line x1="854.60" y1="869.92" x2="859.00" y2="869.92" stroke="#2b2b2b" stroke-width="1.0"/>
<text x="839.80" y="875.22" font-size="20.83" text-anchor="end">20</text>
<line x1="854.60" y1="916.48" x2="859.00" y2="916.48" stroke="#2b2b2b" stroke-width="1.0"/>
<text x="839.80" y="921.77" font-size="20.83" text-anchor="end">30</text>
<line x1="854.60" y1="963.02" x2="859.00" y2="963.02" stroke="#2b2b2b" stroke-width="1.0"/>
<text x="839.80" y="968.32" font-size="20.83" text-anchor="end">40</text>
<line x1="854.60" y1="1009.58" x2="859.00" y2="1009.58" stroke="#2b2b2b" stroke-width="1.0"/>
<text x="839.80" y="1014.88" font-size="20.83" text-anchor="end">50</text>
<line x1="854.60" y1="1056.12" x2="859.00" y2="1056.12" stroke="#2b2b2b" stroke-width="1.0"/>
<text x="839.80" y="1061.42" font-size="20.83" text-anchor="end">60</text>
<line x1="854.60" y1="1102.67" x2="859.00" y2="1102.67" stroke="#2b2b2b" stroke-width="1.0"/>
<text x="839.80" y="1107.97" font-size="20.83" text-anchor="end">70</text>
<line x1="854.60" y1="1149.22" x2="859.00" y2="1149.22" stroke="#2b2b2b" stroke-width="1.0"/>
<text x="839.80" y="1154.52" font-size="20.83" text-anchor="end">80</text>
<line x1="854.60" y1="1195.78" x2="859.00" y2="1195.78" stroke="#2b2b2b" stroke-width="1.0"/>
<text x="839.80" y="1201.08" font-size="20.83" text-anchor="end">90</text>
<line x1="854.60" y1="1242.33" x2="859.00" y2="1242.33" stroke="#2b2b2b" stroke-width="1.0"/>
<text x="839.80" y="1247.62" font-size="20.83" text-anchor="end">100</text>
<line x1="883.99" y1="1265.60" x2="883.99" y2="1270.80" stroke="#2b2b2b" stroke-width="1.0"/>
<text x="891.39" y="1284.60" font-size="20.83" text-anchor="end" transform="rotate(-90 891.39 1284.60)">512</text>
<line x1="933.97" y1="1265.60" x2="933.97" y2="1270.80" stroke="#2b2b2b" stroke-width="1.0"/>
<text x="941.37" y="1284.60" font-size="20.83" text-anchor="end" transform="rotate(-90 941.37 1284.60)">1024</text>
<line x1="983.95" y1="1265.60" x2="983.95" y2="1270.80" stroke="#2b2b2b" stroke-width="1.0"/>
<text x="991.35" y="1284.60" font-size="20.83" text-anchor="end" transform="rotate(-90 991.35 1284.60)">2048</text>
<line x1="1033.93" y1="1265.60" x2="1033.93" y2="1270.80" stroke="#2b2b2b" stroke-width="1.0"/>
<text x="1041.33" y="1284.60" font-size="20.83" text-anchor="end" transform="rotate(-90 1041.33 1284.60)">4096</text>
<line x1="1083.91" y1="1265.60" x2="1083.91" y2="1270.80" stroke="#2b2b2b" stroke-width="1.0"/>
<text x="1091.31" y="1284.60" font-size="20.83" text-anchor="end" transform="rotate(-90 1091.31 1284.60)">8192</text>
<line x1="1133.89" y1="1265.60" x2="1133.89" y2="1270.80" stroke="#2b2b2b" stroke-width="1.0"/>
<text x="1141.29" y="1284.60" font-size="20.83" text-anchor="end" transform="rotate(-90 1141.29 1284.60)">16384</text>
<line x1="1183.87" y1="1265.60" x2="1183.87" y2="1270.80" stroke="#2b2b2b" stroke-width="1.0"/>
<text x="1191.27" y="1284.60" font-size="20.83" text-anchor="end" transform="rotate(-90 1191.27 1284.60)">32768</text>
<line x1="1233.85" y1="1265.60" x2="1233.85" y2="1270.80" stroke="#2b2b2b" stroke-width="1.0"/>
<text x="1241.25" y="1284.60" font-size="20.83" text-anchor="end" transform="rotate(-90 1241.25 1284.60)">65536</text>
<line x1="1283.83" y1="1265.60" x2="1283.83" y2="1270.80" stroke="#2b2b2b" stroke-width="1.0"/>
<text x="1291.23" y="1284.60" font-size="20.83" text-anchor="end" transform="rotate(-90 1291.23 1284.60)">131072</text>
<line x1="1333.81" y1="1265.60" x2="1333.81" y2="1270.80" stroke="#2b2b2b" stroke-width="1.0"/>
<text x="1341.21" y="1284.60" font-size="20.83" text-anchor="end" transform="rotate(-90 1341.21 1284.60)">262144</text>
<line x1="1383.79" y1="1265.60" x2="1383.79" y2="1270.80" stroke="#2b2b2b" stroke-width="1.0"/>
<text x="1391.19" y="1284.60" font-size="20.83" text-anchor="end" transform="rotate(-90 1391.19 1284.60)">524288</text>
<line x1="1433.77" y1="1265.60" x2="1433.77" y2="1270.80" stroke="#2b2b2b" stroke-width="1.0"/>
<text x="1441.17" y="1284.60" font-size="20.83" text-anchor="end" transform="rotate(-90 1441.17 1284.60)">1048476</text>
<text x="782.90" y="1045.00" font-size="20.83" text-anchor="middle" transform="rotate(-90 782.90 1045.00)">Depth into context (%)</text>
<text x="1157.40" y="1397.40" font-size="20.83" text-anchor="middle">Haystack length</text>
</g>
<g id="panel-e">
<text x="1527.40" y="748.40" font-size="32.2" fill="#1a1a1a" font-weight="bold">e</text>
<text x="1617.60" y="755.20" font-size="25.2">Null distribution of retrieval scores</text>
<path d="M1622.4 1194.6 L1622.4 1122.3 L1623.7 1122.3 L1623.7 1157.5 L1625.0 1157.5 L1625.0 1150.1 L1626.0 1150.1 L1626.0 1171.6 L1627.3 1171.6 L1627.3 1173.1 L1628.6 1173.1 L1628.6 1177.4 L1629.6 1177.4 L1629.6 1183.1 L1630.5 1183.1 L1630.5 1186.3 L1631.8 1186.3 L1631.8 1188.2 L1633.7 1188.2 L1633.7 1190.2 L1635.6 1190.2 L1635.6 1192.1 L1638.2 1192.1 L1638.2 1193.4 L1642.6 1193.4 L1642.6 1194.6 Z" fill="#E3358D"/>
<rect x="1619.40" y="853.60" width="3.00" height="341.00" fill="#C0649F"/>
<rect x="1619.50" y="837.90" width="529.40" height="356.70" fill="none" stroke="#3a3a3a" stroke-width="1.2"/>
<line x1="1616.70" y1="853.50" x2="1619.50" y2="853.50" stroke="#3a3a3a" stroke-width="1.1"/>
<text x="1612.20" y="862.90" font-size="21.2" text-anchor="end">600</text>
<line x1="1616.70" y1="966.80" x2="1619.50" y2="966.80" stroke="#3a3a3a" stroke-width="1.1"/>
<text x="1612.20" y="977.40" font-size="21.2" text-anchor="end">400</text>
<line x1="1616.70" y1="1080.20" x2="1619.50" y2="1080.20" stroke="#3a3a3a" stroke-width="1.1"/>
<text x="1612.20" y="1086.30" font-size="21.2" text-anchor="end">200</text>
<line x1="1616.70" y1="1194.20" x2="1619.50" y2="1194.20" stroke="#3a3a3a" stroke-width="1.1"/>
<text x="1612.20" y="1206.10" font-size="21.2" text-anchor="end">0</text>
<line x1="1681.82" y1="1194.60" x2="1681.82" y2="1197.80" stroke="#3a3a3a" stroke-width="1.1"/>
<text x="1678.42" y="1219.40" font-size="21.2" text-anchor="middle">0.1</text>
<line x1="1744.04" y1="1194.60" x2="1744.04" y2="1197.80" stroke="#3a3a3a" stroke-width="1.1"/>
<text x="1744.04" y="1219.40" font-size="21.2" text-anchor="middle">0.2</text>
<line x1="1806.26" y1="1194.60" x2="1806.26" y2="1197.80" stroke="#3a3a3a" stroke-width="1.1"/>
<text x="1806.26" y="1219.40" font-size="21.2" text-anchor="middle">0.3</text>
<line x1="1868.48" y1="1194.60" x2="1868.48" y2="1197.80" stroke="#3a3a3a" stroke-width="1.1"/>
<text x="1868.48" y="1219.40" font-size="21.2" text-anchor="middle">0.4</text>
<line x1="1930.70" y1="1194.60" x2="1930.70" y2="1197.80" stroke="#3a3a3a" stroke-width="1.1"/>
<text x="1930.70" y="1219.40" font-size="21.2" text-anchor="middle">0.5</text>
<line x1="1992.92" y1="1194.60" x2="1992.92" y2="1197.80" stroke="#3a3a3a" stroke-width="1.1"/>
<text x="1992.92" y="1219.40" font-size="21.2" text-anchor="middle">0.6</text>
<line x1="2055.14" y1="1194.60" x2="2055.14" y2="1197.80" stroke="#3a3a3a" stroke-width="1.1"/>
<text x="2055.14" y="1219.40" font-size="21.2" text-anchor="middle">0.7</text>
<line x1="2117.36" y1="1194.60" x2="2117.36" y2="1197.80" stroke="#3a3a3a" stroke-width="1.1"/>
<text x="2117.36" y="1219.40" font-size="21.2" text-anchor="middle">0.8</text>
<text x="1559.40" y="1024.00" font-size="25.2" text-anchor="middle" transform="rotate(-90 1559.40 1024.00)">Frequency</text>
<text x="1896.00" y="1262.30" font-size="25.2" text-anchor="middle">Score</text>
</g>
</svg></body></html>
